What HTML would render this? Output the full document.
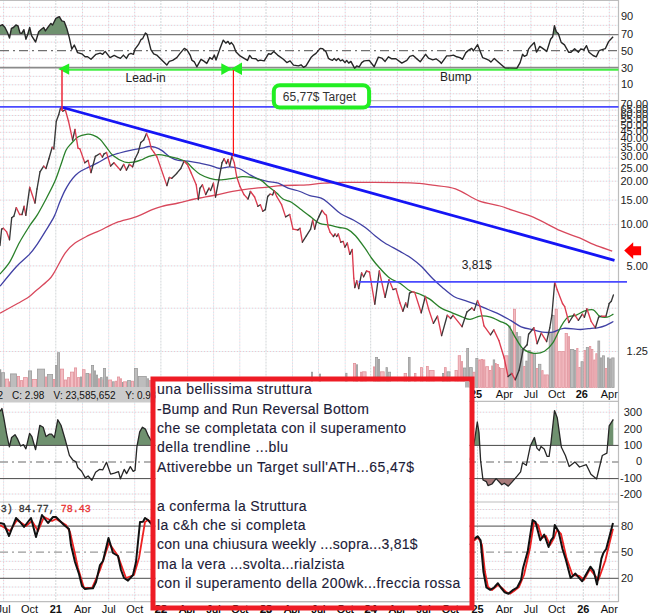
<!DOCTYPE html><html><head><meta charset="utf-8"><style>html,body{margin:0;padding:0;background:#fff;width:659px;height:613px;overflow:hidden} svg{display:block} text{font-family:"Liberation Sans",sans-serif}</style></head><body>
<svg width="659" height="613" viewBox="0 0 659 613">
<rect x="0" y="0" width="659" height="613" fill="#fff"/>
<line x1="3.6" y1="0" x2="3.6" y2="100.6" stroke="#f2c6cf" stroke-width="1" stroke-dasharray="1 2"/>
<line x1="3.6" y1="0" x2="3.6" y2="100.6" stroke="#c8e8ef" stroke-width="1" stroke-dasharray="1 2" stroke-dashoffset="1.5"/>
<line x1="3.6" y1="100.6" x2="3.6" y2="387" stroke="#f2c6cf" stroke-width="1" stroke-dasharray="1 2"/>
<line x1="3.6" y1="100.6" x2="3.6" y2="387" stroke="#c8e8ef" stroke-width="1" stroke-dasharray="1 2" stroke-dashoffset="1.5"/>
<line x1="3.6" y1="401.3" x2="3.6" y2="502" stroke="#f2c6cf" stroke-width="1" stroke-dasharray="1 2"/>
<line x1="3.6" y1="401.3" x2="3.6" y2="502" stroke="#c8e8ef" stroke-width="1" stroke-dasharray="1 2" stroke-dashoffset="1.5"/>
<line x1="3.6" y1="502" x2="3.6" y2="602" stroke="#f2c6cf" stroke-width="1" stroke-dasharray="1 2"/>
<line x1="3.6" y1="502" x2="3.6" y2="602" stroke="#c8e8ef" stroke-width="1" stroke-dasharray="1 2" stroke-dashoffset="1.5"/>
<line x1="29.6" y1="0" x2="29.6" y2="100.6" stroke="#f2c6cf" stroke-width="1" stroke-dasharray="1 2"/>
<line x1="29.6" y1="0" x2="29.6" y2="100.6" stroke="#c8e8ef" stroke-width="1" stroke-dasharray="1 2" stroke-dashoffset="1.5"/>
<line x1="29.6" y1="100.6" x2="29.6" y2="387" stroke="#f2c6cf" stroke-width="1" stroke-dasharray="1 2"/>
<line x1="29.6" y1="100.6" x2="29.6" y2="387" stroke="#c8e8ef" stroke-width="1" stroke-dasharray="1 2" stroke-dashoffset="1.5"/>
<line x1="29.6" y1="401.3" x2="29.6" y2="502" stroke="#f2c6cf" stroke-width="1" stroke-dasharray="1 2"/>
<line x1="29.6" y1="401.3" x2="29.6" y2="502" stroke="#c8e8ef" stroke-width="1" stroke-dasharray="1 2" stroke-dashoffset="1.5"/>
<line x1="29.6" y1="502" x2="29.6" y2="602" stroke="#f2c6cf" stroke-width="1" stroke-dasharray="1 2"/>
<line x1="29.6" y1="502" x2="29.6" y2="602" stroke="#c8e8ef" stroke-width="1" stroke-dasharray="1 2" stroke-dashoffset="1.5"/>
<line x1="55.8" y1="0" x2="55.8" y2="100.6" stroke="#d2d6d8" stroke-width="1" stroke-dasharray="2 1"/>
<line x1="55.8" y1="100.6" x2="55.8" y2="387" stroke="#d2d6d8" stroke-width="1" stroke-dasharray="2 1"/>
<line x1="55.8" y1="401.3" x2="55.8" y2="502" stroke="#d2d6d8" stroke-width="1" stroke-dasharray="2 1"/>
<line x1="55.8" y1="502" x2="55.8" y2="602" stroke="#d2d6d8" stroke-width="1" stroke-dasharray="2 1"/>
<line x1="82.5" y1="0" x2="82.5" y2="100.6" stroke="#f2c6cf" stroke-width="1" stroke-dasharray="1 2"/>
<line x1="82.5" y1="0" x2="82.5" y2="100.6" stroke="#c8e8ef" stroke-width="1" stroke-dasharray="1 2" stroke-dashoffset="1.5"/>
<line x1="82.5" y1="100.6" x2="82.5" y2="387" stroke="#f2c6cf" stroke-width="1" stroke-dasharray="1 2"/>
<line x1="82.5" y1="100.6" x2="82.5" y2="387" stroke="#c8e8ef" stroke-width="1" stroke-dasharray="1 2" stroke-dashoffset="1.5"/>
<line x1="82.5" y1="401.3" x2="82.5" y2="502" stroke="#f2c6cf" stroke-width="1" stroke-dasharray="1 2"/>
<line x1="82.5" y1="401.3" x2="82.5" y2="502" stroke="#c8e8ef" stroke-width="1" stroke-dasharray="1 2" stroke-dashoffset="1.5"/>
<line x1="82.5" y1="502" x2="82.5" y2="602" stroke="#f2c6cf" stroke-width="1" stroke-dasharray="1 2"/>
<line x1="82.5" y1="502" x2="82.5" y2="602" stroke="#c8e8ef" stroke-width="1" stroke-dasharray="1 2" stroke-dashoffset="1.5"/>
<line x1="108.7" y1="0" x2="108.7" y2="100.6" stroke="#f2c6cf" stroke-width="1" stroke-dasharray="1 2"/>
<line x1="108.7" y1="0" x2="108.7" y2="100.6" stroke="#c8e8ef" stroke-width="1" stroke-dasharray="1 2" stroke-dashoffset="1.5"/>
<line x1="108.7" y1="100.6" x2="108.7" y2="387" stroke="#f2c6cf" stroke-width="1" stroke-dasharray="1 2"/>
<line x1="108.7" y1="100.6" x2="108.7" y2="387" stroke="#c8e8ef" stroke-width="1" stroke-dasharray="1 2" stroke-dashoffset="1.5"/>
<line x1="108.7" y1="401.3" x2="108.7" y2="502" stroke="#f2c6cf" stroke-width="1" stroke-dasharray="1 2"/>
<line x1="108.7" y1="401.3" x2="108.7" y2="502" stroke="#c8e8ef" stroke-width="1" stroke-dasharray="1 2" stroke-dashoffset="1.5"/>
<line x1="108.7" y1="502" x2="108.7" y2="602" stroke="#f2c6cf" stroke-width="1" stroke-dasharray="1 2"/>
<line x1="108.7" y1="502" x2="108.7" y2="602" stroke="#c8e8ef" stroke-width="1" stroke-dasharray="1 2" stroke-dashoffset="1.5"/>
<line x1="134.7" y1="0" x2="134.7" y2="100.6" stroke="#f2c6cf" stroke-width="1" stroke-dasharray="1 2"/>
<line x1="134.7" y1="0" x2="134.7" y2="100.6" stroke="#c8e8ef" stroke-width="1" stroke-dasharray="1 2" stroke-dashoffset="1.5"/>
<line x1="134.7" y1="100.6" x2="134.7" y2="387" stroke="#f2c6cf" stroke-width="1" stroke-dasharray="1 2"/>
<line x1="134.7" y1="100.6" x2="134.7" y2="387" stroke="#c8e8ef" stroke-width="1" stroke-dasharray="1 2" stroke-dashoffset="1.5"/>
<line x1="134.7" y1="401.3" x2="134.7" y2="502" stroke="#f2c6cf" stroke-width="1" stroke-dasharray="1 2"/>
<line x1="134.7" y1="401.3" x2="134.7" y2="502" stroke="#c8e8ef" stroke-width="1" stroke-dasharray="1 2" stroke-dashoffset="1.5"/>
<line x1="134.7" y1="502" x2="134.7" y2="602" stroke="#f2c6cf" stroke-width="1" stroke-dasharray="1 2"/>
<line x1="134.7" y1="502" x2="134.7" y2="602" stroke="#c8e8ef" stroke-width="1" stroke-dasharray="1 2" stroke-dashoffset="1.5"/>
<line x1="160.9" y1="0" x2="160.9" y2="100.6" stroke="#d2d6d8" stroke-width="1" stroke-dasharray="2 1"/>
<line x1="160.9" y1="100.6" x2="160.9" y2="387" stroke="#d2d6d8" stroke-width="1" stroke-dasharray="2 1"/>
<line x1="160.9" y1="401.3" x2="160.9" y2="502" stroke="#d2d6d8" stroke-width="1" stroke-dasharray="2 1"/>
<line x1="160.9" y1="502" x2="160.9" y2="602" stroke="#d2d6d8" stroke-width="1" stroke-dasharray="2 1"/>
<line x1="187.6" y1="0" x2="187.6" y2="100.6" stroke="#f2c6cf" stroke-width="1" stroke-dasharray="1 2"/>
<line x1="187.6" y1="0" x2="187.6" y2="100.6" stroke="#c8e8ef" stroke-width="1" stroke-dasharray="1 2" stroke-dashoffset="1.5"/>
<line x1="187.6" y1="100.6" x2="187.6" y2="387" stroke="#f2c6cf" stroke-width="1" stroke-dasharray="1 2"/>
<line x1="187.6" y1="100.6" x2="187.6" y2="387" stroke="#c8e8ef" stroke-width="1" stroke-dasharray="1 2" stroke-dashoffset="1.5"/>
<line x1="187.6" y1="401.3" x2="187.6" y2="502" stroke="#f2c6cf" stroke-width="1" stroke-dasharray="1 2"/>
<line x1="187.6" y1="401.3" x2="187.6" y2="502" stroke="#c8e8ef" stroke-width="1" stroke-dasharray="1 2" stroke-dashoffset="1.5"/>
<line x1="187.6" y1="502" x2="187.6" y2="602" stroke="#f2c6cf" stroke-width="1" stroke-dasharray="1 2"/>
<line x1="187.6" y1="502" x2="187.6" y2="602" stroke="#c8e8ef" stroke-width="1" stroke-dasharray="1 2" stroke-dashoffset="1.5"/>
<line x1="213.6" y1="0" x2="213.6" y2="100.6" stroke="#f2c6cf" stroke-width="1" stroke-dasharray="1 2"/>
<line x1="213.6" y1="0" x2="213.6" y2="100.6" stroke="#c8e8ef" stroke-width="1" stroke-dasharray="1 2" stroke-dashoffset="1.5"/>
<line x1="213.6" y1="100.6" x2="213.6" y2="387" stroke="#f2c6cf" stroke-width="1" stroke-dasharray="1 2"/>
<line x1="213.6" y1="100.6" x2="213.6" y2="387" stroke="#c8e8ef" stroke-width="1" stroke-dasharray="1 2" stroke-dashoffset="1.5"/>
<line x1="213.6" y1="401.3" x2="213.6" y2="502" stroke="#f2c6cf" stroke-width="1" stroke-dasharray="1 2"/>
<line x1="213.6" y1="401.3" x2="213.6" y2="502" stroke="#c8e8ef" stroke-width="1" stroke-dasharray="1 2" stroke-dashoffset="1.5"/>
<line x1="213.6" y1="502" x2="213.6" y2="602" stroke="#f2c6cf" stroke-width="1" stroke-dasharray="1 2"/>
<line x1="213.6" y1="502" x2="213.6" y2="602" stroke="#c8e8ef" stroke-width="1" stroke-dasharray="1 2" stroke-dashoffset="1.5"/>
<line x1="239.8" y1="0" x2="239.8" y2="100.6" stroke="#f2c6cf" stroke-width="1" stroke-dasharray="1 2"/>
<line x1="239.8" y1="0" x2="239.8" y2="100.6" stroke="#c8e8ef" stroke-width="1" stroke-dasharray="1 2" stroke-dashoffset="1.5"/>
<line x1="239.8" y1="100.6" x2="239.8" y2="387" stroke="#f2c6cf" stroke-width="1" stroke-dasharray="1 2"/>
<line x1="239.8" y1="100.6" x2="239.8" y2="387" stroke="#c8e8ef" stroke-width="1" stroke-dasharray="1 2" stroke-dashoffset="1.5"/>
<line x1="239.8" y1="401.3" x2="239.8" y2="502" stroke="#f2c6cf" stroke-width="1" stroke-dasharray="1 2"/>
<line x1="239.8" y1="401.3" x2="239.8" y2="502" stroke="#c8e8ef" stroke-width="1" stroke-dasharray="1 2" stroke-dashoffset="1.5"/>
<line x1="239.8" y1="502" x2="239.8" y2="602" stroke="#f2c6cf" stroke-width="1" stroke-dasharray="1 2"/>
<line x1="239.8" y1="502" x2="239.8" y2="602" stroke="#c8e8ef" stroke-width="1" stroke-dasharray="1 2" stroke-dashoffset="1.5"/>
<line x1="266.0" y1="0" x2="266.0" y2="100.6" stroke="#d2d6d8" stroke-width="1" stroke-dasharray="2 1"/>
<line x1="266.0" y1="100.6" x2="266.0" y2="387" stroke="#d2d6d8" stroke-width="1" stroke-dasharray="2 1"/>
<line x1="266.0" y1="401.3" x2="266.0" y2="502" stroke="#d2d6d8" stroke-width="1" stroke-dasharray="2 1"/>
<line x1="266.0" y1="502" x2="266.0" y2="602" stroke="#d2d6d8" stroke-width="1" stroke-dasharray="2 1"/>
<line x1="292.5" y1="0" x2="292.5" y2="100.6" stroke="#f2c6cf" stroke-width="1" stroke-dasharray="1 2"/>
<line x1="292.5" y1="0" x2="292.5" y2="100.6" stroke="#c8e8ef" stroke-width="1" stroke-dasharray="1 2" stroke-dashoffset="1.5"/>
<line x1="292.5" y1="100.6" x2="292.5" y2="387" stroke="#f2c6cf" stroke-width="1" stroke-dasharray="1 2"/>
<line x1="292.5" y1="100.6" x2="292.5" y2="387" stroke="#c8e8ef" stroke-width="1" stroke-dasharray="1 2" stroke-dashoffset="1.5"/>
<line x1="292.5" y1="401.3" x2="292.5" y2="502" stroke="#f2c6cf" stroke-width="1" stroke-dasharray="1 2"/>
<line x1="292.5" y1="401.3" x2="292.5" y2="502" stroke="#c8e8ef" stroke-width="1" stroke-dasharray="1 2" stroke-dashoffset="1.5"/>
<line x1="292.5" y1="502" x2="292.5" y2="602" stroke="#f2c6cf" stroke-width="1" stroke-dasharray="1 2"/>
<line x1="292.5" y1="502" x2="292.5" y2="602" stroke="#c8e8ef" stroke-width="1" stroke-dasharray="1 2" stroke-dashoffset="1.5"/>
<line x1="318.5" y1="0" x2="318.5" y2="100.6" stroke="#f2c6cf" stroke-width="1" stroke-dasharray="1 2"/>
<line x1="318.5" y1="0" x2="318.5" y2="100.6" stroke="#c8e8ef" stroke-width="1" stroke-dasharray="1 2" stroke-dashoffset="1.5"/>
<line x1="318.5" y1="100.6" x2="318.5" y2="387" stroke="#f2c6cf" stroke-width="1" stroke-dasharray="1 2"/>
<line x1="318.5" y1="100.6" x2="318.5" y2="387" stroke="#c8e8ef" stroke-width="1" stroke-dasharray="1 2" stroke-dashoffset="1.5"/>
<line x1="318.5" y1="401.3" x2="318.5" y2="502" stroke="#f2c6cf" stroke-width="1" stroke-dasharray="1 2"/>
<line x1="318.5" y1="401.3" x2="318.5" y2="502" stroke="#c8e8ef" stroke-width="1" stroke-dasharray="1 2" stroke-dashoffset="1.5"/>
<line x1="318.5" y1="502" x2="318.5" y2="602" stroke="#f2c6cf" stroke-width="1" stroke-dasharray="1 2"/>
<line x1="318.5" y1="502" x2="318.5" y2="602" stroke="#c8e8ef" stroke-width="1" stroke-dasharray="1 2" stroke-dashoffset="1.5"/>
<line x1="345.2" y1="0" x2="345.2" y2="100.6" stroke="#f2c6cf" stroke-width="1" stroke-dasharray="1 2"/>
<line x1="345.2" y1="0" x2="345.2" y2="100.6" stroke="#c8e8ef" stroke-width="1" stroke-dasharray="1 2" stroke-dashoffset="1.5"/>
<line x1="345.2" y1="100.6" x2="345.2" y2="387" stroke="#f2c6cf" stroke-width="1" stroke-dasharray="1 2"/>
<line x1="345.2" y1="100.6" x2="345.2" y2="387" stroke="#c8e8ef" stroke-width="1" stroke-dasharray="1 2" stroke-dashoffset="1.5"/>
<line x1="345.2" y1="401.3" x2="345.2" y2="502" stroke="#f2c6cf" stroke-width="1" stroke-dasharray="1 2"/>
<line x1="345.2" y1="401.3" x2="345.2" y2="502" stroke="#c8e8ef" stroke-width="1" stroke-dasharray="1 2" stroke-dashoffset="1.5"/>
<line x1="345.2" y1="502" x2="345.2" y2="602" stroke="#f2c6cf" stroke-width="1" stroke-dasharray="1 2"/>
<line x1="345.2" y1="502" x2="345.2" y2="602" stroke="#c8e8ef" stroke-width="1" stroke-dasharray="1 2" stroke-dashoffset="1.5"/>
<line x1="370.7" y1="0" x2="370.7" y2="100.6" stroke="#d2d6d8" stroke-width="1" stroke-dasharray="2 1"/>
<line x1="370.7" y1="100.6" x2="370.7" y2="387" stroke="#d2d6d8" stroke-width="1" stroke-dasharray="2 1"/>
<line x1="370.7" y1="401.3" x2="370.7" y2="502" stroke="#d2d6d8" stroke-width="1" stroke-dasharray="2 1"/>
<line x1="370.7" y1="502" x2="370.7" y2="602" stroke="#d2d6d8" stroke-width="1" stroke-dasharray="2 1"/>
<line x1="397.4" y1="0" x2="397.4" y2="100.6" stroke="#f2c6cf" stroke-width="1" stroke-dasharray="1 2"/>
<line x1="397.4" y1="0" x2="397.4" y2="100.6" stroke="#c8e8ef" stroke-width="1" stroke-dasharray="1 2" stroke-dashoffset="1.5"/>
<line x1="397.4" y1="100.6" x2="397.4" y2="387" stroke="#f2c6cf" stroke-width="1" stroke-dasharray="1 2"/>
<line x1="397.4" y1="100.6" x2="397.4" y2="387" stroke="#c8e8ef" stroke-width="1" stroke-dasharray="1 2" stroke-dashoffset="1.5"/>
<line x1="397.4" y1="401.3" x2="397.4" y2="502" stroke="#f2c6cf" stroke-width="1" stroke-dasharray="1 2"/>
<line x1="397.4" y1="401.3" x2="397.4" y2="502" stroke="#c8e8ef" stroke-width="1" stroke-dasharray="1 2" stroke-dashoffset="1.5"/>
<line x1="397.4" y1="502" x2="397.4" y2="602" stroke="#f2c6cf" stroke-width="1" stroke-dasharray="1 2"/>
<line x1="397.4" y1="502" x2="397.4" y2="602" stroke="#c8e8ef" stroke-width="1" stroke-dasharray="1 2" stroke-dashoffset="1.5"/>
<line x1="423.6" y1="0" x2="423.6" y2="100.6" stroke="#f2c6cf" stroke-width="1" stroke-dasharray="1 2"/>
<line x1="423.6" y1="0" x2="423.6" y2="100.6" stroke="#c8e8ef" stroke-width="1" stroke-dasharray="1 2" stroke-dashoffset="1.5"/>
<line x1="423.6" y1="100.6" x2="423.6" y2="387" stroke="#f2c6cf" stroke-width="1" stroke-dasharray="1 2"/>
<line x1="423.6" y1="100.6" x2="423.6" y2="387" stroke="#c8e8ef" stroke-width="1" stroke-dasharray="1 2" stroke-dashoffset="1.5"/>
<line x1="423.6" y1="401.3" x2="423.6" y2="502" stroke="#f2c6cf" stroke-width="1" stroke-dasharray="1 2"/>
<line x1="423.6" y1="401.3" x2="423.6" y2="502" stroke="#c8e8ef" stroke-width="1" stroke-dasharray="1 2" stroke-dashoffset="1.5"/>
<line x1="423.6" y1="502" x2="423.6" y2="602" stroke="#f2c6cf" stroke-width="1" stroke-dasharray="1 2"/>
<line x1="423.6" y1="502" x2="423.6" y2="602" stroke="#c8e8ef" stroke-width="1" stroke-dasharray="1 2" stroke-dashoffset="1.5"/>
<line x1="450.3" y1="0" x2="450.3" y2="100.6" stroke="#f2c6cf" stroke-width="1" stroke-dasharray="1 2"/>
<line x1="450.3" y1="0" x2="450.3" y2="100.6" stroke="#c8e8ef" stroke-width="1" stroke-dasharray="1 2" stroke-dashoffset="1.5"/>
<line x1="450.3" y1="100.6" x2="450.3" y2="387" stroke="#f2c6cf" stroke-width="1" stroke-dasharray="1 2"/>
<line x1="450.3" y1="100.6" x2="450.3" y2="387" stroke="#c8e8ef" stroke-width="1" stroke-dasharray="1 2" stroke-dashoffset="1.5"/>
<line x1="450.3" y1="401.3" x2="450.3" y2="502" stroke="#f2c6cf" stroke-width="1" stroke-dasharray="1 2"/>
<line x1="450.3" y1="401.3" x2="450.3" y2="502" stroke="#c8e8ef" stroke-width="1" stroke-dasharray="1 2" stroke-dashoffset="1.5"/>
<line x1="450.3" y1="502" x2="450.3" y2="602" stroke="#f2c6cf" stroke-width="1" stroke-dasharray="1 2"/>
<line x1="450.3" y1="502" x2="450.3" y2="602" stroke="#c8e8ef" stroke-width="1" stroke-dasharray="1 2" stroke-dashoffset="1.5"/>
<line x1="477.5" y1="0" x2="477.5" y2="100.6" stroke="#d2d6d8" stroke-width="1" stroke-dasharray="2 1"/>
<line x1="477.5" y1="100.6" x2="477.5" y2="387" stroke="#d2d6d8" stroke-width="1" stroke-dasharray="2 1"/>
<line x1="477.5" y1="401.3" x2="477.5" y2="502" stroke="#d2d6d8" stroke-width="1" stroke-dasharray="2 1"/>
<line x1="477.5" y1="502" x2="477.5" y2="602" stroke="#d2d6d8" stroke-width="1" stroke-dasharray="2 1"/>
<line x1="504.4" y1="0" x2="504.4" y2="100.6" stroke="#f2c6cf" stroke-width="1" stroke-dasharray="1 2"/>
<line x1="504.4" y1="0" x2="504.4" y2="100.6" stroke="#c8e8ef" stroke-width="1" stroke-dasharray="1 2" stroke-dashoffset="1.5"/>
<line x1="504.4" y1="100.6" x2="504.4" y2="387" stroke="#f2c6cf" stroke-width="1" stroke-dasharray="1 2"/>
<line x1="504.4" y1="100.6" x2="504.4" y2="387" stroke="#c8e8ef" stroke-width="1" stroke-dasharray="1 2" stroke-dashoffset="1.5"/>
<line x1="504.4" y1="401.3" x2="504.4" y2="502" stroke="#f2c6cf" stroke-width="1" stroke-dasharray="1 2"/>
<line x1="504.4" y1="401.3" x2="504.4" y2="502" stroke="#c8e8ef" stroke-width="1" stroke-dasharray="1 2" stroke-dashoffset="1.5"/>
<line x1="504.4" y1="502" x2="504.4" y2="602" stroke="#f2c6cf" stroke-width="1" stroke-dasharray="1 2"/>
<line x1="504.4" y1="502" x2="504.4" y2="602" stroke="#c8e8ef" stroke-width="1" stroke-dasharray="1 2" stroke-dashoffset="1.5"/>
<line x1="530.9" y1="0" x2="530.9" y2="100.6" stroke="#f2c6cf" stroke-width="1" stroke-dasharray="1 2"/>
<line x1="530.9" y1="0" x2="530.9" y2="100.6" stroke="#c8e8ef" stroke-width="1" stroke-dasharray="1 2" stroke-dashoffset="1.5"/>
<line x1="530.9" y1="100.6" x2="530.9" y2="387" stroke="#f2c6cf" stroke-width="1" stroke-dasharray="1 2"/>
<line x1="530.9" y1="100.6" x2="530.9" y2="387" stroke="#c8e8ef" stroke-width="1" stroke-dasharray="1 2" stroke-dashoffset="1.5"/>
<line x1="530.9" y1="401.3" x2="530.9" y2="502" stroke="#f2c6cf" stroke-width="1" stroke-dasharray="1 2"/>
<line x1="530.9" y1="401.3" x2="530.9" y2="502" stroke="#c8e8ef" stroke-width="1" stroke-dasharray="1 2" stroke-dashoffset="1.5"/>
<line x1="530.9" y1="502" x2="530.9" y2="602" stroke="#f2c6cf" stroke-width="1" stroke-dasharray="1 2"/>
<line x1="530.9" y1="502" x2="530.9" y2="602" stroke="#c8e8ef" stroke-width="1" stroke-dasharray="1 2" stroke-dashoffset="1.5"/>
<line x1="556.6" y1="0" x2="556.6" y2="100.6" stroke="#f2c6cf" stroke-width="1" stroke-dasharray="1 2"/>
<line x1="556.6" y1="0" x2="556.6" y2="100.6" stroke="#c8e8ef" stroke-width="1" stroke-dasharray="1 2" stroke-dashoffset="1.5"/>
<line x1="556.6" y1="100.6" x2="556.6" y2="387" stroke="#f2c6cf" stroke-width="1" stroke-dasharray="1 2"/>
<line x1="556.6" y1="100.6" x2="556.6" y2="387" stroke="#c8e8ef" stroke-width="1" stroke-dasharray="1 2" stroke-dashoffset="1.5"/>
<line x1="556.6" y1="401.3" x2="556.6" y2="502" stroke="#f2c6cf" stroke-width="1" stroke-dasharray="1 2"/>
<line x1="556.6" y1="401.3" x2="556.6" y2="502" stroke="#c8e8ef" stroke-width="1" stroke-dasharray="1 2" stroke-dashoffset="1.5"/>
<line x1="556.6" y1="502" x2="556.6" y2="602" stroke="#f2c6cf" stroke-width="1" stroke-dasharray="1 2"/>
<line x1="556.6" y1="502" x2="556.6" y2="602" stroke="#c8e8ef" stroke-width="1" stroke-dasharray="1 2" stroke-dashoffset="1.5"/>
<line x1="583.3" y1="0" x2="583.3" y2="100.6" stroke="#d2d6d8" stroke-width="1" stroke-dasharray="2 1"/>
<line x1="583.3" y1="100.6" x2="583.3" y2="387" stroke="#d2d6d8" stroke-width="1" stroke-dasharray="2 1"/>
<line x1="583.3" y1="401.3" x2="583.3" y2="502" stroke="#d2d6d8" stroke-width="1" stroke-dasharray="2 1"/>
<line x1="583.3" y1="502" x2="583.3" y2="602" stroke="#d2d6d8" stroke-width="1" stroke-dasharray="2 1"/>
<line x1="609.3" y1="0" x2="609.3" y2="100.6" stroke="#f2c6cf" stroke-width="1" stroke-dasharray="1 2"/>
<line x1="609.3" y1="0" x2="609.3" y2="100.6" stroke="#c8e8ef" stroke-width="1" stroke-dasharray="1 2" stroke-dashoffset="1.5"/>
<line x1="609.3" y1="100.6" x2="609.3" y2="387" stroke="#f2c6cf" stroke-width="1" stroke-dasharray="1 2"/>
<line x1="609.3" y1="100.6" x2="609.3" y2="387" stroke="#c8e8ef" stroke-width="1" stroke-dasharray="1 2" stroke-dashoffset="1.5"/>
<line x1="609.3" y1="401.3" x2="609.3" y2="502" stroke="#f2c6cf" stroke-width="1" stroke-dasharray="1 2"/>
<line x1="609.3" y1="401.3" x2="609.3" y2="502" stroke="#c8e8ef" stroke-width="1" stroke-dasharray="1 2" stroke-dashoffset="1.5"/>
<line x1="609.3" y1="502" x2="609.3" y2="602" stroke="#f2c6cf" stroke-width="1" stroke-dasharray="1 2"/>
<line x1="609.3" y1="502" x2="609.3" y2="602" stroke="#c8e8ef" stroke-width="1" stroke-dasharray="1 2" stroke-dashoffset="1.5"/>
<line x1="0" y1="7.3" x2="618.5" y2="7.3" stroke="#f2c6cf" stroke-width="1" stroke-dasharray="1 2"/>
<line x1="0" y1="7.3" x2="618.5" y2="7.3" stroke="#c8e8ef" stroke-width="1" stroke-dasharray="1 2" stroke-dashoffset="1.5"/>
<line x1="0" y1="16.3" x2="618.5" y2="16.3" stroke="#f2c6cf" stroke-width="1" stroke-dasharray="1 2"/>
<line x1="0" y1="16.3" x2="618.5" y2="16.3" stroke="#c8e8ef" stroke-width="1" stroke-dasharray="1 2" stroke-dashoffset="1.5"/>
<line x1="0" y1="25.3" x2="618.5" y2="25.3" stroke="#f2c6cf" stroke-width="1" stroke-dasharray="1 2"/>
<line x1="0" y1="25.3" x2="618.5" y2="25.3" stroke="#c8e8ef" stroke-width="1" stroke-dasharray="1 2" stroke-dashoffset="1.5"/>
<line x1="0" y1="42.1" x2="618.5" y2="42.1" stroke="#f2c6cf" stroke-width="1" stroke-dasharray="1 2"/>
<line x1="0" y1="42.1" x2="618.5" y2="42.1" stroke="#c8e8ef" stroke-width="1" stroke-dasharray="1 2" stroke-dashoffset="1.5"/>
<line x1="0" y1="58.7" x2="618.5" y2="58.7" stroke="#f2c6cf" stroke-width="1" stroke-dasharray="1 2"/>
<line x1="0" y1="58.7" x2="618.5" y2="58.7" stroke="#c8e8ef" stroke-width="1" stroke-dasharray="1 2" stroke-dashoffset="1.5"/>
<line x1="0" y1="76.3" x2="618.5" y2="76.3" stroke="#f2c6cf" stroke-width="1" stroke-dasharray="1 2"/>
<line x1="0" y1="76.3" x2="618.5" y2="76.3" stroke="#c8e8ef" stroke-width="1" stroke-dasharray="1 2" stroke-dashoffset="1.5"/>
<line x1="0" y1="84.8" x2="618.5" y2="84.8" stroke="#f2c6cf" stroke-width="1" stroke-dasharray="1 2"/>
<line x1="0" y1="84.8" x2="618.5" y2="84.8" stroke="#c8e8ef" stroke-width="1" stroke-dasharray="1 2" stroke-dashoffset="1.5"/>
<line x1="0" y1="93.8" x2="618.5" y2="93.8" stroke="#f2c6cf" stroke-width="1" stroke-dasharray="1 2"/>
<line x1="0" y1="93.8" x2="618.5" y2="93.8" stroke="#c8e8ef" stroke-width="1" stroke-dasharray="1 2" stroke-dashoffset="1.5"/>
<line x1="0" y1="110.1" x2="618.5" y2="110.1" stroke="#f2c6cf" stroke-width="1" stroke-dasharray="1 2"/>
<line x1="0" y1="110.1" x2="618.5" y2="110.1" stroke="#c8e8ef" stroke-width="1" stroke-dasharray="1 2" stroke-dashoffset="1.5"/>
<line x1="0" y1="115.5" x2="618.5" y2="115.5" stroke="#f2c6cf" stroke-width="1" stroke-dasharray="1 2"/>
<line x1="0" y1="115.5" x2="618.5" y2="115.5" stroke="#c8e8ef" stroke-width="1" stroke-dasharray="1 2" stroke-dashoffset="1.5"/>
<line x1="0" y1="120.4" x2="618.5" y2="120.4" stroke="#f2c6cf" stroke-width="1" stroke-dasharray="1 2"/>
<line x1="0" y1="120.4" x2="618.5" y2="120.4" stroke="#c8e8ef" stroke-width="1" stroke-dasharray="1 2" stroke-dashoffset="1.5"/>
<line x1="0" y1="126.1" x2="618.5" y2="126.1" stroke="#f2c6cf" stroke-width="1" stroke-dasharray="1 2"/>
<line x1="0" y1="126.1" x2="618.5" y2="126.1" stroke="#c8e8ef" stroke-width="1" stroke-dasharray="1 2" stroke-dashoffset="1.5"/>
<line x1="0" y1="132.3" x2="618.5" y2="132.3" stroke="#f2c6cf" stroke-width="1" stroke-dasharray="1 2"/>
<line x1="0" y1="132.3" x2="618.5" y2="132.3" stroke="#c8e8ef" stroke-width="1" stroke-dasharray="1 2" stroke-dashoffset="1.5"/>
<line x1="0" y1="139.2" x2="618.5" y2="139.2" stroke="#f2c6cf" stroke-width="1" stroke-dasharray="1 2"/>
<line x1="0" y1="139.2" x2="618.5" y2="139.2" stroke="#c8e8ef" stroke-width="1" stroke-dasharray="1 2" stroke-dashoffset="1.5"/>
<line x1="0" y1="148.1" x2="618.5" y2="148.1" stroke="#f2c6cf" stroke-width="1" stroke-dasharray="1 2"/>
<line x1="0" y1="148.1" x2="618.5" y2="148.1" stroke="#c8e8ef" stroke-width="1" stroke-dasharray="1 2" stroke-dashoffset="1.5"/>
<line x1="0" y1="157.1" x2="618.5" y2="157.1" stroke="#f2c6cf" stroke-width="1" stroke-dasharray="1 2"/>
<line x1="0" y1="157.1" x2="618.5" y2="157.1" stroke="#c8e8ef" stroke-width="1" stroke-dasharray="1 2" stroke-dashoffset="1.5"/>
<line x1="0" y1="168.2" x2="618.5" y2="168.2" stroke="#f2c6cf" stroke-width="1" stroke-dasharray="1 2"/>
<line x1="0" y1="168.2" x2="618.5" y2="168.2" stroke="#c8e8ef" stroke-width="1" stroke-dasharray="1 2" stroke-dashoffset="1.5"/>
<line x1="0" y1="181.2" x2="618.5" y2="181.2" stroke="#f2c6cf" stroke-width="1" stroke-dasharray="1 2"/>
<line x1="0" y1="181.2" x2="618.5" y2="181.2" stroke="#c8e8ef" stroke-width="1" stroke-dasharray="1 2" stroke-dashoffset="1.5"/>
<line x1="0" y1="200.1" x2="618.5" y2="200.1" stroke="#f2c6cf" stroke-width="1" stroke-dasharray="1 2"/>
<line x1="0" y1="200.1" x2="618.5" y2="200.1" stroke="#c8e8ef" stroke-width="1" stroke-dasharray="1 2" stroke-dashoffset="1.5"/>
<line x1="0" y1="224.6" x2="618.5" y2="224.6" stroke="#f2c6cf" stroke-width="1" stroke-dasharray="1 2"/>
<line x1="0" y1="224.6" x2="618.5" y2="224.6" stroke="#c8e8ef" stroke-width="1" stroke-dasharray="1 2" stroke-dashoffset="1.5"/>
<line x1="0" y1="265.9" x2="618.5" y2="265.9" stroke="#f2c6cf" stroke-width="1" stroke-dasharray="1 2"/>
<line x1="0" y1="265.9" x2="618.5" y2="265.9" stroke="#c8e8ef" stroke-width="1" stroke-dasharray="1 2" stroke-dashoffset="1.5"/>
<line x1="0" y1="308.2" x2="618.5" y2="308.2" stroke="#f2c6cf" stroke-width="1" stroke-dasharray="1 2"/>
<line x1="0" y1="308.2" x2="618.5" y2="308.2" stroke="#c8e8ef" stroke-width="1" stroke-dasharray="1 2" stroke-dashoffset="1.5"/>
<line x1="0" y1="351.5" x2="618.5" y2="351.5" stroke="#f2c6cf" stroke-width="1" stroke-dasharray="1 2"/>
<line x1="0" y1="351.5" x2="618.5" y2="351.5" stroke="#c8e8ef" stroke-width="1" stroke-dasharray="1 2" stroke-dashoffset="1.5"/>
<line x1="0" y1="412.2" x2="618.5" y2="412.2" stroke="#f2c6cf" stroke-width="1" stroke-dasharray="1 2"/>
<line x1="0" y1="412.2" x2="618.5" y2="412.2" stroke="#c8e8ef" stroke-width="1" stroke-dasharray="1 2" stroke-dashoffset="1.5"/>
<line x1="0" y1="429" x2="618.5" y2="429" stroke="#f2c6cf" stroke-width="1" stroke-dasharray="1 2"/>
<line x1="0" y1="429" x2="618.5" y2="429" stroke="#c8e8ef" stroke-width="1" stroke-dasharray="1 2" stroke-dashoffset="1.5"/>
<line x1="0" y1="494" x2="618.5" y2="494" stroke="#f2c6cf" stroke-width="1" stroke-dasharray="1 2"/>
<line x1="0" y1="494" x2="618.5" y2="494" stroke="#c8e8ef" stroke-width="1" stroke-dasharray="1 2" stroke-dashoffset="1.5"/>
<line x1="0" y1="509.5" x2="618.5" y2="509.5" stroke="#f2c6cf" stroke-width="1" stroke-dasharray="1 2"/>
<line x1="0" y1="509.5" x2="618.5" y2="509.5" stroke="#c8e8ef" stroke-width="1" stroke-dasharray="1 2" stroke-dashoffset="1.5"/>
<line x1="0" y1="518" x2="618.5" y2="518" stroke="#f2c6cf" stroke-width="1" stroke-dasharray="1 2"/>
<line x1="0" y1="518" x2="618.5" y2="518" stroke="#c8e8ef" stroke-width="1" stroke-dasharray="1 2" stroke-dashoffset="1.5"/>
<line x1="0" y1="535.5" x2="618.5" y2="535.5" stroke="#f2c6cf" stroke-width="1" stroke-dasharray="1 2"/>
<line x1="0" y1="535.5" x2="618.5" y2="535.5" stroke="#c8e8ef" stroke-width="1" stroke-dasharray="1 2" stroke-dashoffset="1.5"/>
<line x1="0" y1="543.5" x2="618.5" y2="543.5" stroke="#f2c6cf" stroke-width="1" stroke-dasharray="1 2"/>
<line x1="0" y1="543.5" x2="618.5" y2="543.5" stroke="#c8e8ef" stroke-width="1" stroke-dasharray="1 2" stroke-dashoffset="1.5"/>
<line x1="0" y1="561.3" x2="618.5" y2="561.3" stroke="#f2c6cf" stroke-width="1" stroke-dasharray="1 2"/>
<line x1="0" y1="561.3" x2="618.5" y2="561.3" stroke="#c8e8ef" stroke-width="1" stroke-dasharray="1 2" stroke-dashoffset="1.5"/>
<line x1="0" y1="569.5" x2="618.5" y2="569.5" stroke="#f2c6cf" stroke-width="1" stroke-dasharray="1 2"/>
<line x1="0" y1="569.5" x2="618.5" y2="569.5" stroke="#c8e8ef" stroke-width="1" stroke-dasharray="1 2" stroke-dashoffset="1.5"/>
<line x1="0" y1="587" x2="618.5" y2="587" stroke="#f2c6cf" stroke-width="1" stroke-dasharray="1 2"/>
<line x1="0" y1="587" x2="618.5" y2="587" stroke="#c8e8ef" stroke-width="1" stroke-dasharray="1 2" stroke-dashoffset="1.5"/>
<line x1="0" y1="595" x2="618.5" y2="595" stroke="#f2c6cf" stroke-width="1" stroke-dasharray="1 2"/>
<line x1="0" y1="595" x2="618.5" y2="595" stroke="#c8e8ef" stroke-width="1" stroke-dasharray="1 2" stroke-dashoffset="1.5"/>
<line x1="0" y1="0.5" x2="618.5" y2="0.5" stroke="#bdbdbd" stroke-width="1"/>
<line x1="0" y1="100.6" x2="618.5" y2="100.6" stroke="#bdbdbd" stroke-width="1.2"/>
<line x1="0" y1="401.3" x2="618.5" y2="401.3" stroke="#bdbdbd" stroke-width="1.2"/>
<line x1="0" y1="502" x2="618.5" y2="502" stroke="#bdbdbd" stroke-width="1.2"/>
<line x1="0" y1="601.6" x2="618.5" y2="601.6" stroke="#bdbdbd" stroke-width="1.2"/>
<line x1="618.5" y1="0" x2="618.5" y2="602" stroke="#bdbdbd" stroke-width="1.2"/>
<clipPath id="c245"><rect x="0" y="0" width="659" height="34.60"/></clipPath><polygon clip-path="url(#c245)" points="0.0,34.6 0.0,25.9 2.5,24.7 5.0,27.5 7.5,32.5 9.5,38.0 11.4,28.4 13.4,27.5 15.9,25.0 18.0,25.9 20.0,33.0 21.7,33.4 23.9,29.7 25.9,39.2 27.5,35.0 29.7,27.5 31.7,35.9 35.6,42.0 38.7,31.7 41.4,29.2 43.7,27.5 45.4,30.9 48.4,26.7 50.9,23.4 52.6,25.0 55.9,18.4 59.3,16.7 61.8,20.9 64.3,21.7 66.8,28.4 69.3,37.6 71.8,49.2 74.3,45.0 77.6,52.6 81.8,53.8 85.1,56.8 87.6,56.8 91.0,59.3 96.0,54.3 100.2,53.1 102.7,54.3 105.2,51.4 110.0,57.6 114.2,55.4 117.5,57.1 120.4,58.4 123.4,55.1 126.4,58.4 128.7,54.3 130.9,53.4 133.4,54.3 135.0,49.2 138.4,44.7 140.9,39.7 142.6,38.7 145.4,33.0 147.0,34.2 150.9,49.7 153.7,53.8 156.7,55.1 166.8,65.1 169.3,61.4 172.6,60.4 176.8,57.6 180.1,53.4 184.3,48.4 187.1,50.1 190.1,55.1 191.8,60.1 194.3,61.8 196.8,66.8 201.0,59.3 203.5,60.9 206.8,63.4 209.8,57.6 212.2,59.3 214.3,55.1 216.0,60.1 220.0,48.4 223.3,40.1 225.8,43.1 228.0,41.4 229.7,44.2 231.4,42.6 233.4,45.1 235.9,51.8 240.0,55.9 247.5,60.4 249.7,55.4 252.0,58.4 255.9,58.8 258.1,60.9 260.1,60.1 264.2,60.9 268.4,53.8 270.9,54.3 273.8,51.4 277.6,55.1 283.4,59.3 286.8,62.6 290.1,60.9 293.5,65.1 298.5,65.9 301.0,64.8 303.5,67.3 306.0,65.9 311.0,57.6 313.5,55.1 316.0,53.4 320.2,48.4 322.7,48.7 326.0,51.8 328.5,58.4 330.0,59.3 332.5,60.4 334.2,58.4 336.3,60.4 338.3,58.4 340.4,60.9 342.5,59.8 345.0,62.6 346.7,60.4 348.7,63.1 350.9,61.4 352.5,64.3 354.7,68.4 356.7,65.9 359.2,66.8 361.7,62.6 364.2,60.9 369.2,60.4 374.2,66.8 378.4,57.1 381.8,58.1 385.1,61.4 388.4,56.8 391.8,58.8 395.9,58.8 401.8,63.1 406.8,60.4 409.8,56.4 413.1,55.4 416.0,58.1 420.2,61.8 425.5,54.3 428.5,58.1 432.7,59.8 436.0,58.8 440.0,61.8 441.3,63.4 444.2,59.3 446.7,55.9 450.0,55.9 453.4,55.1 456.7,56.8 460.0,57.6 462.5,59.3 465.9,52.6 468.4,50.4 471.7,48.4 473.4,50.9 477.6,44.7 482.6,57.6 485.9,58.8 489.2,60.4 490.9,62.1 494.3,58.4 497.6,61.4 505.1,68.1 516.8,68.4 520.1,62.6 522.6,54.3 524.3,56.4 526.8,55.1 528.5,49.2 531.0,45.9 534.3,42.6 536.5,52.1 539.8,46.4 542.7,48.4 546.8,51.4 550.6,39.2 552.7,36.7 554.4,25.8 556.3,31.8 558.3,33.5 561.2,42.4 564.5,44.9 568.6,52.2 571.0,52.2 574.6,48.7 578.4,52.2 580.8,49.0 583.8,49.8 586.5,45.7 589.0,52.2 593.1,55.5 596.3,56.8 599.1,50.6 605.3,48.7 608.6,41.6 613.1,36.7 613.1,34.6" fill="#6f916f"/>
<line x1="0" y1="34.6" x2="618.5" y2="34.6" stroke="#7a7a7a" stroke-width="1.2"/>
<line x1="0" y1="50.6" x2="618.5" y2="50.6" stroke="#707070" stroke-width="1.2" stroke-dasharray="9 4 2 4"/>
<line x1="0" y1="67.6" x2="618.5" y2="67.6" stroke="#8a8a8a" stroke-width="1.6"/>
<polyline points="0.0,25.9 2.5,24.7 5.0,27.5 7.5,32.5 9.5,38.0 11.4,28.4 13.4,27.5 15.9,25.0 18.0,25.9 20.0,33.0 21.7,33.4 23.9,29.7 25.9,39.2 27.5,35.0 29.7,27.5 31.7,35.9 35.6,42.0 38.7,31.7 41.4,29.2 43.7,27.5 45.4,30.9 48.4,26.7 50.9,23.4 52.6,25.0 55.9,18.4 59.3,16.7 61.8,20.9 64.3,21.7 66.8,28.4 69.3,37.6 71.8,49.2 74.3,45.0 77.6,52.6 81.8,53.8 85.1,56.8 87.6,56.8 91.0,59.3 96.0,54.3 100.2,53.1 102.7,54.3 105.2,51.4 110.0,57.6 114.2,55.4 117.5,57.1 120.4,58.4 123.4,55.1 126.4,58.4 128.7,54.3 130.9,53.4 133.4,54.3 135.0,49.2 138.4,44.7 140.9,39.7 142.6,38.7 145.4,33.0 147.0,34.2 150.9,49.7 153.7,53.8 156.7,55.1 166.8,65.1 169.3,61.4 172.6,60.4 176.8,57.6 180.1,53.4 184.3,48.4 187.1,50.1 190.1,55.1 191.8,60.1 194.3,61.8 196.8,66.8 201.0,59.3 203.5,60.9 206.8,63.4 209.8,57.6 212.2,59.3 214.3,55.1 216.0,60.1 220.0,48.4 223.3,40.1 225.8,43.1 228.0,41.4 229.7,44.2 231.4,42.6 233.4,45.1 235.9,51.8 240.0,55.9 247.5,60.4 249.7,55.4 252.0,58.4 255.9,58.8 258.1,60.9 260.1,60.1 264.2,60.9 268.4,53.8 270.9,54.3 273.8,51.4 277.6,55.1 283.4,59.3 286.8,62.6 290.1,60.9 293.5,65.1 298.5,65.9 301.0,64.8 303.5,67.3 306.0,65.9 311.0,57.6 313.5,55.1 316.0,53.4 320.2,48.4 322.7,48.7 326.0,51.8 328.5,58.4 330.0,59.3 332.5,60.4 334.2,58.4 336.3,60.4 338.3,58.4 340.4,60.9 342.5,59.8 345.0,62.6 346.7,60.4 348.7,63.1 350.9,61.4 352.5,64.3 354.7,68.4 356.7,65.9 359.2,66.8 361.7,62.6 364.2,60.9 369.2,60.4 374.2,66.8 378.4,57.1 381.8,58.1 385.1,61.4 388.4,56.8 391.8,58.8 395.9,58.8 401.8,63.1 406.8,60.4 409.8,56.4 413.1,55.4 416.0,58.1 420.2,61.8 425.5,54.3 428.5,58.1 432.7,59.8 436.0,58.8 440.0,61.8 441.3,63.4 444.2,59.3 446.7,55.9 450.0,55.9 453.4,55.1 456.7,56.8 460.0,57.6 462.5,59.3 465.9,52.6 468.4,50.4 471.7,48.4 473.4,50.9 477.6,44.7 482.6,57.6 485.9,58.8 489.2,60.4 490.9,62.1 494.3,58.4 497.6,61.4 505.1,68.1 516.8,68.4 520.1,62.6 522.6,54.3 524.3,56.4 526.8,55.1 528.5,49.2 531.0,45.9 534.3,42.6 536.5,52.1 539.8,46.4 542.7,48.4 546.8,51.4 550.6,39.2 552.7,36.7 554.4,25.8 556.3,31.8 558.3,33.5 561.2,42.4 564.5,44.9 568.6,52.2 571.0,52.2 574.6,48.7 578.4,52.2 580.8,49.0 583.8,49.8 586.5,45.7 589.0,52.2 593.1,55.5 596.3,56.8 599.1,50.6 605.3,48.7 608.6,41.6 613.1,36.7" fill="none" stroke="#262626" stroke-width="1.4" stroke-linejoin="round"/>
<line x1="62" y1="69.8" x2="618.5" y2="69.8" stroke="#44ee44" stroke-width="2"/>
<polygon points="58.2,69 69.2,63.5 69.2,74.8" fill="#22ee22"/>
<polygon points="221.3,63.2 232,69 221.3,75" fill="#22ee22"/>
<polygon points="242,62.5 230.8,69 242,75" fill="#22ee22"/>
<text x="125.6" y="81.8" font-size="12" fill="#222">Lead-in</text>
<text x="440" y="81" font-size="12" fill="#222">Bump</text>
<text x="621" y="19.8" font-size="11" fill="#222">90</text>
<text x="621" y="38.2" font-size="11" fill="#222">70</text>
<text x="621" y="54.6" font-size="11" fill="#222">50</text>
<text x="621" y="71.6" font-size="11" fill="#222">30</text>
<text x="621" y="88.2" font-size="11" fill="#222">10</text>
<rect x="0.4" y="369.7" width="0.4" height="17.7" fill="#bdbdbd" stroke="#9c9c9c" stroke-width="0.8"/>
<rect x="1.4" y="372.7" width="3.2" height="14.7" fill="#bdbdbd" stroke="#9c9c9c" stroke-width="0.8"/>
<rect x="5.4" y="379.1" width="3.2" height="8.3" fill="#f2bcc2" stroke="#e2939b" stroke-width="0.8"/>
<rect x="9.4" y="381.8" width="0.4" height="5.6" fill="#f2bcc2" stroke="#e2939b" stroke-width="0.8"/>
<rect x="10.4" y="373.9" width="6.2" height="13.5" fill="#bdbdbd" stroke="#9c9c9c" stroke-width="0.8"/>
<rect x="17.4" y="376.4" width="2.2" height="11.0" fill="#f2bcc2" stroke="#e2939b" stroke-width="0.8"/>
<rect x="20.4" y="380.6" width="2.2" height="6.8" fill="#f2bcc2" stroke="#e2939b" stroke-width="0.8"/>
<rect x="23.4" y="377.6" width="4.2" height="9.8" fill="#f2bcc2" stroke="#e2939b" stroke-width="0.8"/>
<rect x="28.4" y="370.9" width="3.2" height="16.5" fill="#bdbdbd" stroke="#9c9c9c" stroke-width="0.8"/>
<rect x="32.4" y="379.4" width="4.2" height="8.0" fill="#f2bcc2" stroke="#e2939b" stroke-width="0.8"/>
<rect x="37.4" y="369.1" width="7.2" height="18.3" fill="#bdbdbd" stroke="#9c9c9c" stroke-width="0.8"/>
<rect x="45.4" y="377.0" width="1.2" height="10.4" fill="#f2bcc2" stroke="#e2939b" stroke-width="0.8"/>
<rect x="47.4" y="374.5" width="5.2" height="12.9" fill="#bdbdbd" stroke="#9c9c9c" stroke-width="0.8"/>
<rect x="53.4" y="379.4" width="1.2" height="8.0" fill="#f2bcc2" stroke="#e2939b" stroke-width="0.8"/>
<rect x="55.4" y="365.4" width="1.2" height="22.0" fill="#bdbdbd" stroke="#9c9c9c" stroke-width="0.8"/>
<rect x="57.4" y="352.7" width="2.2" height="34.7" fill="#bdbdbd" stroke="#9c9c9c" stroke-width="0.8"/>
<rect x="60.4" y="369.1" width="3.2" height="18.3" fill="#f2bcc2" stroke="#e2939b" stroke-width="0.8"/>
<rect x="64.4" y="380.0" width="2.2" height="7.4" fill="#f2bcc2" stroke="#e2939b" stroke-width="0.8"/>
<rect x="67.4" y="377.6" width="2.2" height="9.8" fill="#f2bcc2" stroke="#e2939b" stroke-width="0.8"/>
<rect x="70.4" y="372.1" width="3.2" height="15.3" fill="#f2bcc2" stroke="#e2939b" stroke-width="0.8"/>
<rect x="74.4" y="367.9" width="2.2" height="19.5" fill="#f2bcc2" stroke="#e2939b" stroke-width="0.8"/>
<rect x="77.4" y="377.6" width="2.2" height="9.8" fill="#f2bcc2" stroke="#e2939b" stroke-width="0.8"/>
<rect x="80.4" y="377.0" width="1.2" height="10.4" fill="#bdbdbd" stroke="#9c9c9c" stroke-width="0.8"/>
<rect x="82.4" y="369.7" width="2.7" height="17.7" fill="#f2bcc2" stroke="#e2939b" stroke-width="0.8"/>
<rect x="85.9" y="373.4" width="2.7" height="14.0" fill="#bdbdbd" stroke="#9c9c9c" stroke-width="0.8"/>
<rect x="89.4" y="373.9" width="1.2" height="13.5" fill="#f2bcc2" stroke="#e2939b" stroke-width="0.8"/>
<rect x="91.4" y="365.4" width="2.2" height="22.0" fill="#bdbdbd" stroke="#9c9c9c" stroke-width="0.8"/>
<rect x="94.4" y="370.9" width="1.2" height="16.5" fill="#bdbdbd" stroke="#9c9c9c" stroke-width="0.8"/>
<rect x="96.4" y="375.1" width="1.2" height="12.3" fill="#bdbdbd" stroke="#9c9c9c" stroke-width="0.8"/>
<rect x="98.4" y="378.8" width="1.2" height="8.6" fill="#f2bcc2" stroke="#e2939b" stroke-width="0.8"/>
<rect x="100.4" y="377.6" width="1.7" height="9.8" fill="#bdbdbd" stroke="#9c9c9c" stroke-width="0.8"/>
<rect x="102.9" y="380.0" width="0.4" height="7.4" fill="#f2bcc2" stroke="#e2939b" stroke-width="0.8"/>
<rect x="103.4" y="368.4" width="2.2" height="19.0" fill="#bdbdbd" stroke="#9c9c9c" stroke-width="0.8"/>
<rect x="106.4" y="377.0" width="1.2" height="10.4" fill="#bdbdbd" stroke="#9c9c9c" stroke-width="0.8"/>
<rect x="108.4" y="380.0" width="3.2" height="7.4" fill="#f2bcc2" stroke="#e2939b" stroke-width="0.8"/>
<rect x="112.4" y="381.8" width="1.8" height="5.6" fill="#bdbdbd" stroke="#9c9c9c" stroke-width="0.8"/>
<rect x="115.0" y="381.2" width="1.6" height="6.2" fill="#f2bcc2" stroke="#e2939b" stroke-width="0.8"/>
<rect x="117.4" y="377.0" width="2.2" height="10.4" fill="#f2bcc2" stroke="#e2939b" stroke-width="0.8"/>
<rect x="120.4" y="378.8" width="1.2" height="8.6" fill="#f2bcc2" stroke="#e2939b" stroke-width="0.8"/>
<rect x="122.4" y="382.4" width="0.4" height="5.0" fill="#bdbdbd" stroke="#9c9c9c" stroke-width="0.8"/>
<rect x="123.4" y="381.8" width="3.2" height="5.6" fill="#f2bcc2" stroke="#e2939b" stroke-width="0.8"/>
<rect x="127.4" y="380.6" width="3.2" height="6.8" fill="#bdbdbd" stroke="#9c9c9c" stroke-width="0.8"/>
<rect x="131.4" y="381.2" width="2.2" height="6.2" fill="#f2bcc2" stroke="#e2939b" stroke-width="0.8"/>
<rect x="134.4" y="368.4" width="3.2" height="19.0" fill="#bdbdbd" stroke="#9c9c9c" stroke-width="0.8"/>
<rect x="138.4" y="376.4" width="7.9" height="11.0" fill="#bdbdbd" stroke="#9c9c9c" stroke-width="0.8"/>
<rect x="147.1" y="378.8" width="1.5" height="8.6" fill="#bdbdbd" stroke="#9c9c9c" stroke-width="0.8"/>
<rect x="149.4" y="380.4" width="1.2" height="7.0" fill="#f2bcc2" stroke="#e2939b" stroke-width="0.8"/>
<rect x="311.4" y="372.2" width="1.2" height="15.2" fill="#bdbdbd" stroke="#9c9c9c" stroke-width="0.8"/>
<rect x="319.4" y="374.1" width="1.2" height="13.3" fill="#bdbdbd" stroke="#9c9c9c" stroke-width="0.8"/>
<rect x="345.7" y="373.3" width="1.3" height="14.1" fill="#bdbdbd" stroke="#9c9c9c" stroke-width="0.8"/>
<rect x="353.4" y="363.4" width="2.2" height="24.0" fill="#f2bcc2" stroke="#e2939b" stroke-width="0.8"/>
<rect x="356.4" y="364.8" width="1.2" height="22.6" fill="#bdbdbd" stroke="#9c9c9c" stroke-width="0.8"/>
<rect x="360.4" y="372.2" width="1.2" height="15.2" fill="#f2bcc2" stroke="#e2939b" stroke-width="0.8"/>
<rect x="362.4" y="371.8" width="3.7" height="15.6" fill="#f2bcc2" stroke="#e2939b" stroke-width="0.8"/>
<rect x="373.4" y="366.9" width="1.2" height="20.5" fill="#f2bcc2" stroke="#e2939b" stroke-width="0.8"/>
<rect x="375.4" y="357.4" width="2.2" height="30.0" fill="#bdbdbd" stroke="#9c9c9c" stroke-width="0.8"/>
<rect x="378.4" y="359.4" width="1.2" height="28.0" fill="#bdbdbd" stroke="#9c9c9c" stroke-width="0.8"/>
<rect x="380.4" y="371.8" width="3.8" height="15.6" fill="#f2bcc2" stroke="#e2939b" stroke-width="0.8"/>
<rect x="386.0" y="367.6" width="1.4" height="19.8" fill="#bdbdbd" stroke="#9c9c9c" stroke-width="0.8"/>
<rect x="388.2" y="372.2" width="2.4" height="15.2" fill="#bdbdbd" stroke="#9c9c9c" stroke-width="0.8"/>
<rect x="404.1" y="373.4" width="2.5" height="14.0" fill="#f2bcc2" stroke="#e2939b" stroke-width="0.8"/>
<rect x="408.4" y="357.4" width="1.7" height="30.0" fill="#bdbdbd" stroke="#9c9c9c" stroke-width="0.8"/>
<rect x="414.4" y="373.4" width="1.6" height="14.0" fill="#f2bcc2" stroke="#e2939b" stroke-width="0.8"/>
<rect x="420.4" y="367.6" width="2.0" height="19.8" fill="#f2bcc2" stroke="#e2939b" stroke-width="0.8"/>
<rect x="426.4" y="366.4" width="1.9" height="21.0" fill="#f2bcc2" stroke="#e2939b" stroke-width="0.8"/>
<rect x="429.4" y="370.4" width="4.7" height="17.0" fill="#f2bcc2" stroke="#e2939b" stroke-width="0.8"/>
<rect x="442.4" y="373.4" width="1.2" height="14.0" fill="#bdbdbd" stroke="#9c9c9c" stroke-width="0.8"/>
<rect x="444.4" y="367.6" width="1.8" height="19.8" fill="#f2bcc2" stroke="#e2939b" stroke-width="0.8"/>
<rect x="447.0" y="371.8" width="3.0" height="15.6" fill="#bdbdbd" stroke="#9c9c9c" stroke-width="0.8"/>
<rect x="455.0" y="370.4" width="2.4" height="17.0" fill="#f2bcc2" stroke="#e2939b" stroke-width="0.8"/>
<rect x="458.2" y="355.7" width="2.4" height="31.7" fill="#f2bcc2" stroke="#e2939b" stroke-width="0.8"/>
<rect x="461.4" y="361.6" width="1.2" height="25.8" fill="#f2bcc2" stroke="#e2939b" stroke-width="0.8"/>
<rect x="463.4" y="368.0" width="2.5" height="19.4" fill="#bdbdbd" stroke="#9c9c9c" stroke-width="0.8"/>
<rect x="466.7" y="348.4" width="1.9" height="39.0" fill="#bdbdbd" stroke="#9c9c9c" stroke-width="0.8"/>
<rect x="469.4" y="367.6" width="2.9" height="19.8" fill="#bdbdbd" stroke="#9c9c9c" stroke-width="0.8"/>
<rect x="473.1" y="372.2" width="1.9" height="15.2" fill="#f2bcc2" stroke="#e2939b" stroke-width="0.8"/>
<rect x="475.8" y="358.4" width="2.1" height="29.0" fill="#bdbdbd" stroke="#9c9c9c" stroke-width="0.8"/>
<rect x="478.7" y="359.9" width="1.6" height="27.5" fill="#f2bcc2" stroke="#e2939b" stroke-width="0.8"/>
<rect x="481.1" y="359.4" width="1.5" height="28.0" fill="#f2bcc2" stroke="#e2939b" stroke-width="0.8"/>
<rect x="483.4" y="359.9" width="1.4" height="27.5" fill="#f2bcc2" stroke="#e2939b" stroke-width="0.8"/>
<rect x="485.6" y="366.7" width="3.0" height="20.7" fill="#f2bcc2" stroke="#e2939b" stroke-width="0.8"/>
<rect x="489.4" y="370.4" width="1.5" height="17.0" fill="#f2bcc2" stroke="#e2939b" stroke-width="0.8"/>
<rect x="491.7" y="365.9" width="0.7" height="21.5" fill="#f2bcc2" stroke="#e2939b" stroke-width="0.8"/>
<rect x="493.2" y="359.9" width="1.5" height="27.5" fill="#bdbdbd" stroke="#9c9c9c" stroke-width="0.8"/>
<rect x="495.5" y="363.4" width="0.7" height="24.0" fill="#f2bcc2" stroke="#e2939b" stroke-width="0.8"/>
<rect x="497.0" y="364.4" width="1.5" height="23.0" fill="#f2bcc2" stroke="#e2939b" stroke-width="0.8"/>
<rect x="499.3" y="367.4" width="0.4" height="20.0" fill="#f2bcc2" stroke="#e2939b" stroke-width="0.8"/>
<rect x="500.4" y="368.4" width="3.4" height="19.0" fill="#f2bcc2" stroke="#e2939b" stroke-width="0.8"/>
<rect x="504.6" y="355.8" width="3.5" height="31.6" fill="#f2bcc2" stroke="#e2939b" stroke-width="0.8"/>
<rect x="508.9" y="326.1" width="1.7" height="61.3" fill="#bdbdbd" stroke="#9c9c9c" stroke-width="0.8"/>
<rect x="511.4" y="332.4" width="1.2" height="55.0" fill="#bdbdbd" stroke="#9c9c9c" stroke-width="0.8"/>
<rect x="513.4" y="309.2" width="2.1" height="78.2" fill="#f2bcc2" stroke="#e2939b" stroke-width="0.8"/>
<rect x="516.3" y="332.4" width="1.3" height="55.0" fill="#bdbdbd" stroke="#9c9c9c" stroke-width="0.8"/>
<rect x="518.4" y="336.7" width="2.4" height="50.7" fill="#bdbdbd" stroke="#9c9c9c" stroke-width="0.8"/>
<rect x="521.6" y="349.4" width="1.3" height="38.0" fill="#bdbdbd" stroke="#9c9c9c" stroke-width="0.8"/>
<rect x="523.7" y="366.4" width="1.3" height="21.0" fill="#f2bcc2" stroke="#e2939b" stroke-width="0.8"/>
<rect x="525.8" y="361.1" width="1.4" height="26.3" fill="#bdbdbd" stroke="#9c9c9c" stroke-width="0.8"/>
<rect x="528.0" y="350.4" width="2.3" height="37.0" fill="#bdbdbd" stroke="#9c9c9c" stroke-width="0.8"/>
<rect x="531.1" y="353.7" width="1.4" height="33.7" fill="#f2bcc2" stroke="#e2939b" stroke-width="0.8"/>
<rect x="533.3" y="353.7" width="2.3" height="33.7" fill="#bdbdbd" stroke="#9c9c9c" stroke-width="0.8"/>
<rect x="536.4" y="368.4" width="1.4" height="19.0" fill="#f2bcc2" stroke="#e2939b" stroke-width="0.8"/>
<rect x="538.6" y="364.3" width="2.3" height="23.1" fill="#bdbdbd" stroke="#9c9c9c" stroke-width="0.8"/>
<rect x="541.7" y="370.6" width="1.4" height="16.8" fill="#f2bcc2" stroke="#e2939b" stroke-width="0.8"/>
<rect x="543.9" y="374.9" width="1.3" height="12.5" fill="#f2bcc2" stroke="#e2939b" stroke-width="0.8"/>
<rect x="546.0" y="374.9" width="2.4" height="12.5" fill="#f2bcc2" stroke="#e2939b" stroke-width="0.8"/>
<rect x="549.2" y="332.4" width="2.4" height="55.0" fill="#bdbdbd" stroke="#9c9c9c" stroke-width="0.8"/>
<rect x="552.4" y="315.4" width="1.9" height="72.0" fill="#bdbdbd" stroke="#9c9c9c" stroke-width="0.8"/>
<rect x="555.1" y="309.2" width="2.2" height="78.2" fill="#f2bcc2" stroke="#e2939b" stroke-width="0.8"/>
<rect x="558.1" y="351.6" width="3.0" height="35.8" fill="#f2bcc2" stroke="#e2939b" stroke-width="0.8"/>
<rect x="561.9" y="351.6" width="2.4" height="35.8" fill="#f2bcc2" stroke="#e2939b" stroke-width="0.8"/>
<rect x="565.1" y="333.5" width="2.3" height="53.9" fill="#f2bcc2" stroke="#e2939b" stroke-width="0.8"/>
<rect x="568.2" y="336.7" width="1.4" height="50.7" fill="#f2bcc2" stroke="#e2939b" stroke-width="0.8"/>
<rect x="570.4" y="349.4" width="3.4" height="38.0" fill="#bdbdbd" stroke="#9c9c9c" stroke-width="0.8"/>
<rect x="574.6" y="350.4" width="1.3" height="37.0" fill="#bdbdbd" stroke="#9c9c9c" stroke-width="0.8"/>
<rect x="576.7" y="348.4" width="1.3" height="39.0" fill="#f2bcc2" stroke="#e2939b" stroke-width="0.8"/>
<rect x="578.8" y="367.4" width="1.4" height="20.0" fill="#f2bcc2" stroke="#e2939b" stroke-width="0.8"/>
<rect x="581.0" y="361.7" width="2.3" height="25.7" fill="#bdbdbd" stroke="#9c9c9c" stroke-width="0.8"/>
<rect x="584.1" y="350.4" width="1.4" height="37.0" fill="#f2bcc2" stroke="#e2939b" stroke-width="0.8"/>
<rect x="586.3" y="347.4" width="2.3" height="40.0" fill="#bdbdbd" stroke="#9c9c9c" stroke-width="0.8"/>
<rect x="589.4" y="346.4" width="1.4" height="41.0" fill="#f2bcc2" stroke="#e2939b" stroke-width="0.8"/>
<rect x="591.6" y="349.4" width="1.3" height="38.0" fill="#f2bcc2" stroke="#e2939b" stroke-width="0.8"/>
<rect x="593.7" y="360.0" width="1.3" height="27.4" fill="#f2bcc2" stroke="#e2939b" stroke-width="0.8"/>
<rect x="595.8" y="353.7" width="1.3" height="33.7" fill="#f2bcc2" stroke="#e2939b" stroke-width="0.8"/>
<rect x="597.9" y="341.0" width="1.8" height="46.4" fill="#bdbdbd" stroke="#9c9c9c" stroke-width="0.8"/>
<rect x="600.5" y="357.9" width="1.3" height="29.5" fill="#bdbdbd" stroke="#9c9c9c" stroke-width="0.8"/>
<rect x="602.6" y="355.8" width="1.9" height="31.6" fill="#bdbdbd" stroke="#9c9c9c" stroke-width="0.8"/>
<rect x="605.3" y="368.4" width="1.4" height="19.0" fill="#f2bcc2" stroke="#e2939b" stroke-width="0.8"/>
<rect x="607.5" y="357.9" width="1.3" height="29.5" fill="#bdbdbd" stroke="#9c9c9c" stroke-width="0.8"/>
<rect x="609.6" y="359.0" width="1.3" height="28.4" fill="#bdbdbd" stroke="#9c9c9c" stroke-width="0.8"/>
<rect x="611.7" y="357.9" width="2.4" height="29.5" fill="#bdbdbd" stroke="#9c9c9c" stroke-width="0.8"/>
<path d="M0.0,313.2 C3.0,311.6 13.2,306.0 18.0,303.3 C22.8,300.6 25.7,299.1 28.7,297.0 C31.7,294.9 32.6,293.6 35.9,290.8 C39.2,288.0 45.5,282.9 48.5,280.0 C51.5,277.1 51.0,277.7 53.8,273.2 C56.6,268.7 61.8,257.8 65.3,252.8 C68.8,247.8 71.2,245.8 75.0,243.0 C78.8,240.2 83.9,237.8 88.1,235.7 C92.3,233.6 95.3,232.7 100.0,230.5 C104.7,228.3 110.3,224.9 116.3,222.6 C122.3,220.3 129.9,219.1 135.9,216.9 C141.9,214.7 147.8,211.4 152.2,209.6 C156.5,207.8 157.7,207.4 162.0,206.3 C166.3,205.2 172.9,204.2 178.3,203.0 C183.7,201.8 191.0,199.8 194.6,199.0 C198.2,198.2 196.4,198.7 200.0,198.0 C203.6,197.3 210.9,196.1 216.3,195.0 C221.7,193.9 227.2,192.4 232.6,191.4 C238.0,190.4 243.4,189.6 248.9,188.9 C254.4,188.2 259.9,187.9 265.3,187.3 C270.8,186.8 275.8,185.9 281.6,185.6 C287.4,185.2 295.6,185.3 300.0,185.2 C304.4,185.1 304.1,185.1 308.2,184.8 C312.3,184.5 318.2,183.6 324.5,183.2 C330.8,182.8 333.1,182.5 345.7,182.4 C358.3,182.3 387.7,182.4 400.0,182.6 C412.3,182.8 414.2,183.0 419.6,183.4 C425.0,183.8 426.6,184.2 432.6,185.1 C438.6,186.0 447.9,186.2 455.5,188.8 C463.1,191.4 470.9,197.7 478.3,200.6 C485.7,203.5 494.4,204.4 500.0,206.0 C505.6,207.6 506.5,208.3 512.1,210.2 C517.7,212.1 525.8,214.0 533.8,217.4 C541.8,220.8 552.7,227.3 560.3,230.7 C567.9,234.1 574.0,235.6 579.6,237.9 C585.2,240.2 588.7,242.5 594.1,244.7 C599.5,246.9 609.2,250.1 612.2,251.2" fill="none" stroke="#d8485c" stroke-width="1.3"/>
<path d="M0.0,286.2 C2.7,282.9 11.4,272.0 16.3,266.7 C21.2,261.4 25.9,258.2 29.4,254.4 C32.9,250.6 34.7,247.9 37.5,243.8 C40.3,239.7 43.4,234.6 46.2,230.0 C49.0,225.4 52.0,220.9 54.2,216.4 C56.4,211.9 57.7,207.3 59.4,203.1 C61.1,198.9 62.8,194.8 64.5,191.4 C66.2,188.0 67.8,185.3 69.6,182.6 C71.4,179.9 73.5,177.2 75.5,175.2 C77.5,173.2 79.2,172.1 81.4,170.8 C83.6,169.5 86.0,168.5 88.7,167.2 C91.4,165.9 94.0,164.6 97.5,162.8 C101.0,161.0 106.3,157.8 110.0,156.2 C113.7,154.6 115.8,154.1 119.6,153.0 C123.4,151.9 128.8,150.6 132.6,149.8 C136.4,149.0 139.7,148.7 142.4,148.1 C145.1,147.5 146.7,146.6 148.9,146.5 C151.1,146.4 153.3,146.6 155.5,147.3 C157.7,148.0 159.6,149.0 162.0,150.6 C164.4,152.2 167.4,155.5 170.1,157.1 C172.8,158.7 175.3,159.7 178.3,160.4 C181.3,161.1 184.5,160.7 188.1,161.2 C191.7,161.7 196.4,162.5 200.0,163.2 C203.6,163.9 206.5,164.4 209.8,165.3 C213.1,166.2 216.3,168.2 219.6,168.5 C222.9,168.8 226.1,166.9 229.4,166.9 C232.7,166.9 235.9,167.3 239.2,168.5 C242.4,169.7 245.7,172.4 248.9,174.2 C252.2,176.0 255.4,177.9 258.7,179.1 C262.0,180.3 265.2,180.9 268.5,181.6 C271.8,182.3 275.0,182.1 278.3,183.2 C281.6,184.3 284.5,186.7 288.1,188.1 C291.7,189.5 296.4,190.2 300.0,191.5 C303.6,192.8 306.3,194.6 309.8,195.7 C313.3,196.8 317.9,196.8 321.2,198.2 C324.5,199.6 326.1,201.3 329.4,203.9 C332.7,206.5 336.7,211.0 340.8,213.7 C344.9,216.4 349.7,217.9 353.8,220.2 C357.9,222.5 361.8,224.9 365.3,227.5 C368.8,230.1 371.8,233.1 375.0,235.7 C378.2,238.3 380.6,240.4 384.8,243.0 C389.0,245.6 395.6,248.9 400.0,251.4 C404.4,253.9 407.9,255.7 411.4,258.2 C414.9,260.7 417.7,262.9 421.2,266.3 C424.7,269.7 429.1,275.0 432.6,278.5 C436.1,282.0 438.9,284.5 442.4,287.5 C445.9,290.5 450.0,294.3 453.8,296.5 C457.6,298.7 461.5,299.2 465.3,300.6 C469.1,302.0 472.9,303.1 476.7,304.6 C480.5,306.1 484.2,307.8 488.1,309.5 C492.0,311.2 496.2,312.8 500.0,314.6 C503.8,316.4 507.1,318.4 510.6,320.4 C514.1,322.4 517.3,325.2 521.2,326.8 C525.1,328.4 530.4,329.1 533.9,330.0 C537.4,330.9 539.2,331.8 542.4,332.1 C545.6,332.5 549.5,332.7 553.0,332.1 C556.5,331.5 559.0,328.7 563.6,328.3 C568.2,327.9 576.0,329.5 580.6,329.5 C585.2,329.5 588.4,328.6 591.2,328.3 C594.0,328.0 595.0,328.3 597.5,327.8 C600.0,327.3 603.4,326.4 606.0,325.3 C608.6,324.2 612.2,322.1 613.4,321.5" fill="none" stroke="#4040a4" stroke-width="1.3"/>
<path d="M0.0,274.0 C1.6,272.0 6.5,267.1 9.8,261.8 C13.1,256.5 16.2,248.3 19.6,242.2 C23.0,236.1 27.1,229.8 30.0,225.2 C33.0,220.6 34.6,219.3 37.3,214.9 C40.0,210.5 43.2,204.3 46.2,198.7 C49.2,193.1 52.6,186.7 55.0,181.1 C57.4,175.5 59.0,170.1 60.8,165.0 C62.6,159.9 64.3,153.9 66.0,150.3 C67.7,146.8 69.0,146.0 71.1,143.7 C73.1,141.4 75.7,138.3 78.3,136.7 C80.9,135.1 84.0,134.6 86.5,134.3 C89.0,134.0 90.8,134.3 93.0,135.1 C95.2,135.9 97.8,137.2 100.0,139.2 C102.2,141.2 104.3,144.6 106.5,147.3 C108.7,150.0 110.0,153.1 113.0,155.5 C116.0,157.9 121.0,160.9 124.5,162.0 C128.1,163.1 131.3,162.4 134.3,162.0 C137.3,161.6 140.0,160.4 142.4,159.5 C144.8,158.6 146.2,157.1 148.9,156.3 C151.6,155.5 155.4,154.6 158.7,154.6 C162.0,154.6 165.2,155.6 168.5,156.3 C171.8,157.0 175.3,157.8 178.3,158.7 C181.3,159.6 184.1,160.4 186.5,162.0 C188.9,163.6 190.8,166.5 193.0,168.5 C195.2,170.5 197.2,172.6 200.0,174.2 C202.8,175.8 206.5,177.4 209.8,178.3 C213.1,179.2 215.8,179.9 219.6,179.9 C223.4,179.9 228.8,178.8 232.6,178.3 C236.4,177.8 239.1,176.8 242.4,176.7 C245.7,176.6 249.2,177.0 252.2,177.5 C255.2,178.0 257.7,178.4 260.4,179.9 C263.1,181.4 265.8,184.3 268.5,186.5 C271.2,188.7 274.3,190.9 276.7,193.0 C279.1,195.1 280.6,197.5 283.0,199.0 C285.4,200.5 288.6,200.6 291.4,202.2 C294.2,203.8 296.9,206.5 300.0,208.8 C303.1,211.1 306.5,213.7 309.8,216.1 C313.1,218.5 316.3,221.9 319.6,223.4 C322.9,224.9 326.1,224.4 329.4,225.1 C332.7,225.8 336.2,226.8 339.2,227.5 C342.2,228.2 344.6,227.8 347.3,229.2 C350.0,230.6 352.5,232.4 355.5,235.7 C358.5,238.9 362.6,244.9 365.3,248.7 C368.0,252.5 369.4,255.2 371.8,258.5 C374.2,261.8 376.9,265.0 379.9,268.3 C382.9,271.6 386.3,275.6 389.7,278.1 C393.1,280.6 396.6,281.1 400.0,283.2 C403.4,285.3 406.5,289.0 409.8,290.8 C413.1,292.6 416.3,292.6 419.6,294.0 C422.9,295.4 425.9,296.6 429.4,298.9 C432.9,301.2 437.0,305.6 440.8,307.9 C444.6,310.2 448.7,311.3 452.2,312.8 C455.7,314.3 459.0,315.8 462.0,316.9 C465.0,318.0 467.1,319.4 470.1,319.3 C473.1,319.2 476.6,316.5 479.9,316.1 C483.2,315.7 486.3,316.0 489.7,316.9 C493.1,317.8 496.9,319.8 500.0,321.3 C503.1,322.8 505.9,322.9 508.5,325.7 C511.1,328.5 513.4,334.5 515.9,338.4 C518.4,342.3 520.3,346.5 523.3,349.0 C526.3,351.5 530.4,352.9 533.9,353.3 C537.4,353.7 541.3,353.0 544.5,351.2 C547.7,349.4 550.2,346.9 553.0,342.7 C555.8,338.4 559.0,329.9 561.5,325.7 C564.0,321.4 565.3,319.0 567.8,317.2 C570.3,315.4 573.5,316.2 576.3,315.1 C579.1,314.1 582.0,311.8 584.8,310.9 C587.6,310.0 590.8,308.9 593.3,309.8 C595.8,310.7 597.3,315.0 599.6,316.2 C601.9,317.4 604.8,317.5 607.1,317.2 C609.4,316.9 612.4,314.6 613.4,314.1" fill="none" stroke="#2a802a" stroke-width="1.3"/>
<line x1="0.0" y1="245.5" x2="1.6" y2="229.2" stroke="#383838" stroke-width="1.35" stroke-linecap="round"/>
<line x1="1.6" y1="229.2" x2="3.3" y2="228.3" stroke="#383838" stroke-width="1.35" stroke-linecap="round"/>
<line x1="3.3" y1="228.3" x2="6.5" y2="231.6" stroke="#dc3c50" stroke-width="1.35" stroke-linecap="round"/>
<line x1="6.5" y1="231.6" x2="9.5" y2="239.8" stroke="#dc3c50" stroke-width="1.35" stroke-linecap="round"/>
<line x1="9.5" y1="239.8" x2="11.7" y2="217.7" stroke="#383838" stroke-width="1.35" stroke-linecap="round"/>
<line x1="11.7" y1="217.7" x2="13.9" y2="216.1" stroke="#383838" stroke-width="1.35" stroke-linecap="round"/>
<line x1="13.9" y1="216.1" x2="16.3" y2="207.6" stroke="#383838" stroke-width="1.35" stroke-linecap="round"/>
<line x1="16.3" y1="207.6" x2="19.6" y2="214.5" stroke="#dc3c50" stroke-width="1.35" stroke-linecap="round"/>
<line x1="19.6" y1="214.5" x2="22.0" y2="214.5" stroke="#dc3c50" stroke-width="1.35" stroke-linecap="round"/>
<line x1="22.0" y1="214.5" x2="24.1" y2="206.3" stroke="#383838" stroke-width="1.35" stroke-linecap="round"/>
<line x1="24.1" y1="206.3" x2="25.8" y2="215.3" stroke="#dc3c50" stroke-width="1.35" stroke-linecap="round"/>
<line x1="25.8" y1="215.3" x2="29.7" y2="187.3" stroke="#383838" stroke-width="1.35" stroke-linecap="round"/>
<line x1="29.7" y1="187.3" x2="35.0" y2="203.0" stroke="#dc3c50" stroke-width="1.35" stroke-linecap="round"/>
<line x1="35.0" y1="203.0" x2="37.0" y2="189.0" stroke="#383838" stroke-width="1.35" stroke-linecap="round"/>
<line x1="37.0" y1="189.0" x2="40.0" y2="171.8" stroke="#383838" stroke-width="1.35" stroke-linecap="round"/>
<line x1="40.0" y1="171.8" x2="43.7" y2="166.1" stroke="#383838" stroke-width="1.35" stroke-linecap="round"/>
<line x1="43.7" y1="166.1" x2="46.0" y2="168.5" stroke="#dc3c50" stroke-width="1.35" stroke-linecap="round"/>
<line x1="46.0" y1="168.5" x2="48.9" y2="158.7" stroke="#383838" stroke-width="1.35" stroke-linecap="round"/>
<line x1="48.9" y1="158.7" x2="52.2" y2="147.3" stroke="#383838" stroke-width="1.35" stroke-linecap="round"/>
<line x1="52.2" y1="147.3" x2="53.8" y2="148.9" stroke="#dc3c50" stroke-width="1.35" stroke-linecap="round"/>
<line x1="53.8" y1="148.9" x2="56.3" y2="121.2" stroke="#383838" stroke-width="1.35" stroke-linecap="round"/>
<line x1="56.3" y1="121.2" x2="58.7" y2="114.7" stroke="#383838" stroke-width="1.35" stroke-linecap="round"/>
<line x1="58.7" y1="114.7" x2="60.7" y2="107.3" stroke="#383838" stroke-width="1.35" stroke-linecap="round"/>
<line x1="60.7" y1="107.3" x2="62.8" y2="111.1" stroke="#dc3c50" stroke-width="1.35" stroke-linecap="round"/>
<line x1="62.8" y1="111.1" x2="65.3" y2="109.8" stroke="#383838" stroke-width="1.35" stroke-linecap="round"/>
<line x1="65.3" y1="109.8" x2="68.5" y2="121.2" stroke="#dc3c50" stroke-width="1.35" stroke-linecap="round"/>
<line x1="68.5" y1="121.2" x2="72.6" y2="140.0" stroke="#dc3c50" stroke-width="1.35" stroke-linecap="round"/>
<line x1="72.6" y1="140.0" x2="75.0" y2="129.4" stroke="#383838" stroke-width="1.35" stroke-linecap="round"/>
<line x1="75.0" y1="129.4" x2="78.0" y2="148.1" stroke="#dc3c50" stroke-width="1.35" stroke-linecap="round"/>
<line x1="78.0" y1="148.1" x2="79.9" y2="148.9" stroke="#dc3c50" stroke-width="1.35" stroke-linecap="round"/>
<line x1="79.9" y1="148.9" x2="84.8" y2="162.8" stroke="#dc3c50" stroke-width="1.35" stroke-linecap="round"/>
<line x1="84.8" y1="162.8" x2="88.1" y2="160.4" stroke="#383838" stroke-width="1.35" stroke-linecap="round"/>
<line x1="88.1" y1="160.4" x2="91.0" y2="172.6" stroke="#dc3c50" stroke-width="1.35" stroke-linecap="round"/>
<line x1="91.0" y1="172.6" x2="95.4" y2="156.3" stroke="#383838" stroke-width="1.35" stroke-linecap="round"/>
<line x1="95.4" y1="156.3" x2="100.0" y2="153.5" stroke="#383838" stroke-width="1.35" stroke-linecap="round"/>
<line x1="100.0" y1="153.5" x2="102.4" y2="157.1" stroke="#dc3c50" stroke-width="1.35" stroke-linecap="round"/>
<line x1="102.4" y1="157.1" x2="104.1" y2="153.8" stroke="#383838" stroke-width="1.35" stroke-linecap="round"/>
<line x1="104.1" y1="153.8" x2="106.5" y2="152.5" stroke="#383838" stroke-width="1.35" stroke-linecap="round"/>
<line x1="106.5" y1="152.5" x2="110.6" y2="166.1" stroke="#dc3c50" stroke-width="1.35" stroke-linecap="round"/>
<line x1="110.6" y1="166.1" x2="113.9" y2="162.8" stroke="#383838" stroke-width="1.35" stroke-linecap="round"/>
<line x1="113.9" y1="162.8" x2="120.4" y2="170.1" stroke="#dc3c50" stroke-width="1.35" stroke-linecap="round"/>
<line x1="120.4" y1="170.1" x2="123.7" y2="164.4" stroke="#383838" stroke-width="1.35" stroke-linecap="round"/>
<line x1="123.7" y1="164.4" x2="126.4" y2="170.1" stroke="#dc3c50" stroke-width="1.35" stroke-linecap="round"/>
<line x1="126.4" y1="170.1" x2="129.4" y2="164.4" stroke="#383838" stroke-width="1.35" stroke-linecap="round"/>
<line x1="129.4" y1="164.4" x2="132.6" y2="166.9" stroke="#dc3c50" stroke-width="1.35" stroke-linecap="round"/>
<line x1="132.6" y1="166.9" x2="135.1" y2="158.7" stroke="#383838" stroke-width="1.35" stroke-linecap="round"/>
<line x1="135.1" y1="158.7" x2="138.3" y2="152.2" stroke="#383838" stroke-width="1.35" stroke-linecap="round"/>
<line x1="138.3" y1="152.2" x2="140.8" y2="142.4" stroke="#383838" stroke-width="1.35" stroke-linecap="round"/>
<line x1="140.8" y1="142.4" x2="143.7" y2="140.0" stroke="#383838" stroke-width="1.35" stroke-linecap="round"/>
<line x1="143.7" y1="140.0" x2="146.5" y2="133.4" stroke="#383838" stroke-width="1.35" stroke-linecap="round"/>
<line x1="146.5" y1="133.4" x2="148.9" y2="139.2" stroke="#dc3c50" stroke-width="1.35" stroke-linecap="round"/>
<line x1="148.9" y1="139.2" x2="151.4" y2="148.9" stroke="#dc3c50" stroke-width="1.35" stroke-linecap="round"/>
<line x1="151.4" y1="148.9" x2="153.8" y2="152.2" stroke="#dc3c50" stroke-width="1.35" stroke-linecap="round"/>
<line x1="153.8" y1="152.2" x2="157.1" y2="157.1" stroke="#dc3c50" stroke-width="1.35" stroke-linecap="round"/>
<line x1="157.1" y1="157.1" x2="166.9" y2="185.6" stroke="#dc3c50" stroke-width="1.35" stroke-linecap="round"/>
<line x1="166.9" y1="185.6" x2="169.3" y2="177.5" stroke="#383838" stroke-width="1.35" stroke-linecap="round"/>
<line x1="169.3" y1="177.5" x2="171.8" y2="178.3" stroke="#dc3c50" stroke-width="1.35" stroke-linecap="round"/>
<line x1="171.8" y1="178.3" x2="176.7" y2="173.4" stroke="#383838" stroke-width="1.35" stroke-linecap="round"/>
<line x1="176.7" y1="173.4" x2="180.8" y2="168.5" stroke="#383838" stroke-width="1.35" stroke-linecap="round"/>
<line x1="180.8" y1="168.5" x2="184.0" y2="161.2" stroke="#383838" stroke-width="1.35" stroke-linecap="round"/>
<line x1="184.0" y1="161.2" x2="187.3" y2="164.4" stroke="#dc3c50" stroke-width="1.35" stroke-linecap="round"/>
<line x1="187.3" y1="164.4" x2="191.4" y2="173.4" stroke="#dc3c50" stroke-width="1.35" stroke-linecap="round"/>
<line x1="191.4" y1="173.4" x2="196.2" y2="184.8" stroke="#dc3c50" stroke-width="1.35" stroke-linecap="round"/>
<line x1="196.2" y1="184.8" x2="198.3" y2="199.5" stroke="#dc3c50" stroke-width="1.35" stroke-linecap="round"/>
<line x1="198.3" y1="199.5" x2="200.0" y2="188.1" stroke="#383838" stroke-width="1.35" stroke-linecap="round"/>
<line x1="200.0" y1="188.1" x2="202.4" y2="184.8" stroke="#383838" stroke-width="1.35" stroke-linecap="round"/>
<line x1="202.4" y1="184.8" x2="205.7" y2="194.6" stroke="#dc3c50" stroke-width="1.35" stroke-linecap="round"/>
<line x1="205.7" y1="194.6" x2="209.0" y2="188.1" stroke="#383838" stroke-width="1.35" stroke-linecap="round"/>
<line x1="209.0" y1="188.1" x2="210.6" y2="190.5" stroke="#dc3c50" stroke-width="1.35" stroke-linecap="round"/>
<line x1="210.6" y1="190.5" x2="213.4" y2="183.2" stroke="#383838" stroke-width="1.35" stroke-linecap="round"/>
<line x1="213.4" y1="183.2" x2="215.5" y2="197.1" stroke="#dc3c50" stroke-width="1.35" stroke-linecap="round"/>
<line x1="215.5" y1="197.1" x2="218.8" y2="179.9" stroke="#383838" stroke-width="1.35" stroke-linecap="round"/>
<line x1="218.8" y1="179.9" x2="222.0" y2="162.8" stroke="#383838" stroke-width="1.35" stroke-linecap="round"/>
<line x1="222.0" y1="162.8" x2="224.1" y2="158.7" stroke="#383838" stroke-width="1.35" stroke-linecap="round"/>
<line x1="224.1" y1="158.7" x2="226.4" y2="163.6" stroke="#dc3c50" stroke-width="1.35" stroke-linecap="round"/>
<line x1="226.4" y1="163.6" x2="228.1" y2="159.5" stroke="#383838" stroke-width="1.35" stroke-linecap="round"/>
<line x1="228.1" y1="159.5" x2="229.7" y2="166.1" stroke="#dc3c50" stroke-width="1.35" stroke-linecap="round"/>
<line x1="229.7" y1="166.1" x2="231.8" y2="156.3" stroke="#383838" stroke-width="1.35" stroke-linecap="round"/>
<line x1="231.8" y1="156.3" x2="234.3" y2="162.8" stroke="#dc3c50" stroke-width="1.35" stroke-linecap="round"/>
<line x1="234.3" y1="162.8" x2="236.7" y2="176.7" stroke="#dc3c50" stroke-width="1.35" stroke-linecap="round"/>
<line x1="236.7" y1="176.7" x2="240.0" y2="186.5" stroke="#dc3c50" stroke-width="1.35" stroke-linecap="round"/>
<line x1="240.0" y1="186.5" x2="244.0" y2="194.6" stroke="#dc3c50" stroke-width="1.35" stroke-linecap="round"/>
<line x1="244.0" y1="194.6" x2="248.0" y2="199.0" stroke="#dc3c50" stroke-width="1.35" stroke-linecap="round"/>
<line x1="248.0" y1="199.0" x2="250.5" y2="191.5" stroke="#383838" stroke-width="1.35" stroke-linecap="round"/>
<line x1="250.5" y1="191.5" x2="254.6" y2="197.0" stroke="#dc3c50" stroke-width="1.35" stroke-linecap="round"/>
<line x1="254.6" y1="197.0" x2="257.9" y2="206.3" stroke="#dc3c50" stroke-width="1.35" stroke-linecap="round"/>
<line x1="257.9" y1="206.3" x2="260.4" y2="204.7" stroke="#383838" stroke-width="1.35" stroke-linecap="round"/>
<line x1="260.4" y1="204.7" x2="262.8" y2="211.2" stroke="#dc3c50" stroke-width="1.35" stroke-linecap="round"/>
<line x1="262.8" y1="211.2" x2="265.3" y2="209.6" stroke="#383838" stroke-width="1.35" stroke-linecap="round"/>
<line x1="265.3" y1="209.6" x2="267.7" y2="196.5" stroke="#383838" stroke-width="1.35" stroke-linecap="round"/>
<line x1="267.7" y1="196.5" x2="270.1" y2="194.1" stroke="#383838" stroke-width="1.35" stroke-linecap="round"/>
<line x1="270.1" y1="194.1" x2="272.6" y2="194.9" stroke="#dc3c50" stroke-width="1.35" stroke-linecap="round"/>
<line x1="272.6" y1="194.9" x2="274.2" y2="190.8" stroke="#383838" stroke-width="1.35" stroke-linecap="round"/>
<line x1="274.2" y1="190.8" x2="276.7" y2="196.5" stroke="#dc3c50" stroke-width="1.35" stroke-linecap="round"/>
<line x1="276.7" y1="196.5" x2="281.6" y2="204.7" stroke="#dc3c50" stroke-width="1.35" stroke-linecap="round"/>
<line x1="281.6" y1="204.7" x2="285.6" y2="216.9" stroke="#dc3c50" stroke-width="1.35" stroke-linecap="round"/>
<line x1="285.6" y1="216.9" x2="289.7" y2="214.5" stroke="#383838" stroke-width="1.35" stroke-linecap="round"/>
<line x1="289.7" y1="214.5" x2="293.0" y2="229.2" stroke="#dc3c50" stroke-width="1.35" stroke-linecap="round"/>
<line x1="293.0" y1="229.2" x2="297.9" y2="230.0" stroke="#dc3c50" stroke-width="1.35" stroke-linecap="round"/>
<line x1="297.9" y1="230.0" x2="300.0" y2="228.3" stroke="#383838" stroke-width="1.35" stroke-linecap="round"/>
<line x1="300.0" y1="228.3" x2="302.4" y2="242.2" stroke="#dc3c50" stroke-width="1.35" stroke-linecap="round"/>
<line x1="302.4" y1="242.2" x2="306.5" y2="235.7" stroke="#383838" stroke-width="1.35" stroke-linecap="round"/>
<line x1="306.5" y1="235.7" x2="310.6" y2="229.2" stroke="#383838" stroke-width="1.35" stroke-linecap="round"/>
<line x1="310.6" y1="229.2" x2="312.7" y2="220.2" stroke="#383838" stroke-width="1.35" stroke-linecap="round"/>
<line x1="312.7" y1="220.2" x2="314.7" y2="229.2" stroke="#dc3c50" stroke-width="1.35" stroke-linecap="round"/>
<line x1="314.7" y1="229.2" x2="316.3" y2="222.6" stroke="#383838" stroke-width="1.35" stroke-linecap="round"/>
<line x1="316.3" y1="222.6" x2="318.8" y2="216.9" stroke="#383838" stroke-width="1.35" stroke-linecap="round"/>
<line x1="318.8" y1="216.9" x2="322.0" y2="210.4" stroke="#383838" stroke-width="1.35" stroke-linecap="round"/>
<line x1="322.0" y1="210.4" x2="324.5" y2="213.7" stroke="#dc3c50" stroke-width="1.35" stroke-linecap="round"/>
<line x1="324.5" y1="213.7" x2="326.4" y2="215.3" stroke="#dc3c50" stroke-width="1.35" stroke-linecap="round"/>
<line x1="326.4" y1="215.3" x2="328.1" y2="226.7" stroke="#dc3c50" stroke-width="1.35" stroke-linecap="round"/>
<line x1="328.1" y1="226.7" x2="330.2" y2="232.4" stroke="#dc3c50" stroke-width="1.35" stroke-linecap="round"/>
<line x1="330.2" y1="232.4" x2="333.4" y2="236.5" stroke="#dc3c50" stroke-width="1.35" stroke-linecap="round"/>
<line x1="333.4" y1="236.5" x2="335.1" y2="234.0" stroke="#383838" stroke-width="1.35" stroke-linecap="round"/>
<line x1="335.1" y1="234.0" x2="336.7" y2="236.5" stroke="#dc3c50" stroke-width="1.35" stroke-linecap="round"/>
<line x1="336.7" y1="236.5" x2="338.3" y2="234.0" stroke="#383838" stroke-width="1.35" stroke-linecap="round"/>
<line x1="338.3" y1="234.0" x2="340.8" y2="242.2" stroke="#dc3c50" stroke-width="1.35" stroke-linecap="round"/>
<line x1="340.8" y1="242.2" x2="343.2" y2="241.4" stroke="#383838" stroke-width="1.35" stroke-linecap="round"/>
<line x1="343.2" y1="241.4" x2="344.9" y2="247.1" stroke="#dc3c50" stroke-width="1.35" stroke-linecap="round"/>
<line x1="344.9" y1="247.1" x2="347.3" y2="243.0" stroke="#383838" stroke-width="1.35" stroke-linecap="round"/>
<line x1="347.3" y1="243.0" x2="349.8" y2="254.4" stroke="#dc3c50" stroke-width="1.35" stroke-linecap="round"/>
<line x1="349.8" y1="254.4" x2="352.2" y2="249.5" stroke="#383838" stroke-width="1.35" stroke-linecap="round"/>
<line x1="352.2" y1="249.5" x2="353.8" y2="278.1" stroke="#dc3c50" stroke-width="1.35" stroke-linecap="round"/>
<line x1="353.8" y1="278.1" x2="354.8" y2="287.6" stroke="#dc3c50" stroke-width="1.35" stroke-linecap="round"/>
<line x1="354.8" y1="287.6" x2="356.8" y2="280.8" stroke="#383838" stroke-width="1.35" stroke-linecap="round"/>
<line x1="356.8" y1="280.8" x2="358.7" y2="288.6" stroke="#dc3c50" stroke-width="1.35" stroke-linecap="round"/>
<line x1="358.7" y1="288.6" x2="361.6" y2="272.9" stroke="#383838" stroke-width="1.35" stroke-linecap="round"/>
<line x1="361.6" y1="272.9" x2="363.6" y2="276.8" stroke="#dc3c50" stroke-width="1.35" stroke-linecap="round"/>
<line x1="363.6" y1="276.8" x2="366.5" y2="271.0" stroke="#383838" stroke-width="1.35" stroke-linecap="round"/>
<line x1="366.5" y1="271.0" x2="369.5" y2="272.0" stroke="#dc3c50" stroke-width="1.35" stroke-linecap="round"/>
<line x1="369.5" y1="272.0" x2="374.8" y2="304.2" stroke="#dc3c50" stroke-width="1.35" stroke-linecap="round"/>
<line x1="374.8" y1="304.2" x2="379.3" y2="271.0" stroke="#383838" stroke-width="1.35" stroke-linecap="round"/>
<line x1="379.3" y1="271.0" x2="385.1" y2="297.4" stroke="#dc3c50" stroke-width="1.35" stroke-linecap="round"/>
<line x1="385.1" y1="297.4" x2="389.0" y2="279.8" stroke="#383838" stroke-width="1.35" stroke-linecap="round"/>
<line x1="389.0" y1="279.8" x2="393.0" y2="289.6" stroke="#dc3c50" stroke-width="1.35" stroke-linecap="round"/>
<line x1="393.0" y1="289.6" x2="395.9" y2="288.6" stroke="#383838" stroke-width="1.35" stroke-linecap="round"/>
<line x1="395.9" y1="288.6" x2="400.0" y2="303.0" stroke="#dc3c50" stroke-width="1.35" stroke-linecap="round"/>
<line x1="400.0" y1="303.0" x2="402.9" y2="311.2" stroke="#dc3c50" stroke-width="1.35" stroke-linecap="round"/>
<line x1="402.9" y1="311.2" x2="405.7" y2="303.0" stroke="#383838" stroke-width="1.35" stroke-linecap="round"/>
<line x1="405.7" y1="303.0" x2="407.3" y2="307.1" stroke="#dc3c50" stroke-width="1.35" stroke-linecap="round"/>
<line x1="407.3" y1="307.1" x2="409.5" y2="293.2" stroke="#383838" stroke-width="1.35" stroke-linecap="round"/>
<line x1="409.5" y1="293.2" x2="412.2" y2="291.6" stroke="#383838" stroke-width="1.35" stroke-linecap="round"/>
<line x1="412.2" y1="291.6" x2="414.7" y2="292.4" stroke="#dc3c50" stroke-width="1.35" stroke-linecap="round"/>
<line x1="414.7" y1="292.4" x2="421.2" y2="312.8" stroke="#dc3c50" stroke-width="1.35" stroke-linecap="round"/>
<line x1="421.2" y1="312.8" x2="425.3" y2="296.5" stroke="#383838" stroke-width="1.35" stroke-linecap="round"/>
<line x1="425.3" y1="296.5" x2="428.5" y2="308.7" stroke="#dc3c50" stroke-width="1.35" stroke-linecap="round"/>
<line x1="428.5" y1="308.7" x2="433.4" y2="323.4" stroke="#dc3c50" stroke-width="1.35" stroke-linecap="round"/>
<line x1="433.4" y1="323.4" x2="437.5" y2="316.1" stroke="#383838" stroke-width="1.35" stroke-linecap="round"/>
<line x1="437.5" y1="316.1" x2="441.6" y2="335.6" stroke="#dc3c50" stroke-width="1.35" stroke-linecap="round"/>
<line x1="441.6" y1="335.6" x2="447.3" y2="315.3" stroke="#383838" stroke-width="1.35" stroke-linecap="round"/>
<line x1="447.3" y1="315.3" x2="450.6" y2="318.5" stroke="#dc3c50" stroke-width="1.35" stroke-linecap="round"/>
<line x1="450.6" y1="318.5" x2="453.0" y2="315.3" stroke="#383838" stroke-width="1.35" stroke-linecap="round"/>
<line x1="453.0" y1="315.3" x2="462.0" y2="326.7" stroke="#dc3c50" stroke-width="1.35" stroke-linecap="round"/>
<line x1="462.0" y1="326.7" x2="466.9" y2="312.0" stroke="#383838" stroke-width="1.35" stroke-linecap="round"/>
<line x1="466.9" y1="312.0" x2="471.8" y2="307.9" stroke="#383838" stroke-width="1.35" stroke-linecap="round"/>
<line x1="471.8" y1="307.9" x2="474.2" y2="310.4" stroke="#dc3c50" stroke-width="1.35" stroke-linecap="round"/>
<line x1="474.2" y1="310.4" x2="477.5" y2="300.6" stroke="#383838" stroke-width="1.35" stroke-linecap="round"/>
<line x1="477.5" y1="300.6" x2="479.9" y2="306.3" stroke="#dc3c50" stroke-width="1.35" stroke-linecap="round"/>
<line x1="479.9" y1="306.3" x2="484.0" y2="325.9" stroke="#dc3c50" stroke-width="1.35" stroke-linecap="round"/>
<line x1="484.0" y1="325.9" x2="490.5" y2="334.8" stroke="#dc3c50" stroke-width="1.35" stroke-linecap="round"/>
<line x1="490.5" y1="334.8" x2="493.8" y2="329.9" stroke="#383838" stroke-width="1.35" stroke-linecap="round"/>
<line x1="493.8" y1="329.9" x2="498.9" y2="340.5" stroke="#dc3c50" stroke-width="1.35" stroke-linecap="round"/>
<line x1="498.9" y1="340.5" x2="504.2" y2="358.0" stroke="#dc3c50" stroke-width="1.35" stroke-linecap="round"/>
<line x1="504.2" y1="358.0" x2="508.1" y2="376.6" stroke="#dc3c50" stroke-width="1.35" stroke-linecap="round"/>
<line x1="508.1" y1="376.6" x2="511.7" y2="373.4" stroke="#383838" stroke-width="1.35" stroke-linecap="round"/>
<line x1="511.7" y1="373.4" x2="515.3" y2="379.8" stroke="#dc3c50" stroke-width="1.35" stroke-linecap="round"/>
<line x1="515.3" y1="379.8" x2="519.1" y2="370.2" stroke="#383838" stroke-width="1.35" stroke-linecap="round"/>
<line x1="519.1" y1="370.2" x2="523.3" y2="349.0" stroke="#383838" stroke-width="1.35" stroke-linecap="round"/>
<line x1="523.3" y1="349.0" x2="527.1" y2="344.8" stroke="#383838" stroke-width="1.35" stroke-linecap="round"/>
<line x1="527.1" y1="344.8" x2="528.6" y2="334.2" stroke="#383838" stroke-width="1.35" stroke-linecap="round"/>
<line x1="528.6" y1="334.2" x2="533.9" y2="327.8" stroke="#383838" stroke-width="1.35" stroke-linecap="round"/>
<line x1="533.9" y1="327.8" x2="537.1" y2="343.7" stroke="#dc3c50" stroke-width="1.35" stroke-linecap="round"/>
<line x1="537.1" y1="343.7" x2="541.3" y2="333.1" stroke="#383838" stroke-width="1.35" stroke-linecap="round"/>
<line x1="541.3" y1="333.1" x2="546.6" y2="341.6" stroke="#dc3c50" stroke-width="1.35" stroke-linecap="round"/>
<line x1="546.6" y1="341.6" x2="549.8" y2="327.8" stroke="#383838" stroke-width="1.35" stroke-linecap="round"/>
<line x1="549.8" y1="327.8" x2="551.9" y2="315.1" stroke="#383838" stroke-width="1.35" stroke-linecap="round"/>
<line x1="551.9" y1="315.1" x2="554.7" y2="282.3" stroke="#383838" stroke-width="1.35" stroke-linecap="round"/>
<line x1="554.7" y1="282.3" x2="557.2" y2="289.7" stroke="#dc3c50" stroke-width="1.35" stroke-linecap="round"/>
<line x1="557.2" y1="289.7" x2="562.5" y2="303.5" stroke="#dc3c50" stroke-width="1.35" stroke-linecap="round"/>
<line x1="562.5" y1="303.5" x2="564.7" y2="306.6" stroke="#dc3c50" stroke-width="1.35" stroke-linecap="round"/>
<line x1="564.7" y1="306.6" x2="568.9" y2="322.5" stroke="#dc3c50" stroke-width="1.35" stroke-linecap="round"/>
<line x1="568.9" y1="322.5" x2="574.2" y2="314.1" stroke="#383838" stroke-width="1.35" stroke-linecap="round"/>
<line x1="574.2" y1="314.1" x2="578.4" y2="320.4" stroke="#dc3c50" stroke-width="1.35" stroke-linecap="round"/>
<line x1="578.4" y1="320.4" x2="582.3" y2="314.1" stroke="#383838" stroke-width="1.35" stroke-linecap="round"/>
<line x1="582.3" y1="314.1" x2="584.4" y2="317.2" stroke="#dc3c50" stroke-width="1.35" stroke-linecap="round"/>
<line x1="584.4" y1="317.2" x2="586.9" y2="308.8" stroke="#383838" stroke-width="1.35" stroke-linecap="round"/>
<line x1="586.9" y1="308.8" x2="591.2" y2="321.5" stroke="#dc3c50" stroke-width="1.35" stroke-linecap="round"/>
<line x1="591.2" y1="321.5" x2="595.4" y2="327.8" stroke="#dc3c50" stroke-width="1.35" stroke-linecap="round"/>
<line x1="595.4" y1="327.8" x2="598.6" y2="317.2" stroke="#383838" stroke-width="1.35" stroke-linecap="round"/>
<line x1="598.6" y1="317.2" x2="601.8" y2="316.2" stroke="#383838" stroke-width="1.35" stroke-linecap="round"/>
<line x1="601.8" y1="316.2" x2="606.0" y2="316.2" stroke="#dc3c50" stroke-width="1.35" stroke-linecap="round"/>
<line x1="606.0" y1="316.2" x2="609.2" y2="303.5" stroke="#383838" stroke-width="1.35" stroke-linecap="round"/>
<line x1="609.2" y1="303.5" x2="611.3" y2="301.3" stroke="#383838" stroke-width="1.35" stroke-linecap="round"/>
<line x1="611.3" y1="301.3" x2="613.4" y2="295.0" stroke="#383838" stroke-width="1.35" stroke-linecap="round"/>
<line x1="0" y1="106.8" x2="618.5" y2="106.8" stroke="#4a4aff" stroke-width="1.8"/>
<line x1="358.7" y1="281.8" x2="627" y2="281.8" stroke="#4a4aff" stroke-width="1.7"/>
<line x1="61" y1="107" x2="614.5" y2="260.3" stroke="#1515f5" stroke-width="2.8"/>
<line x1="62" y1="70" x2="62" y2="111" stroke="#ee3344" stroke-width="1.6"/>
<line x1="233.4" y1="70" x2="233.4" y2="155.5" stroke="#ff1111" stroke-width="1.2"/>
<text x="461.7" y="268.8" font-size="12" fill="#222">3,81$</text>
<text x="648" y="108.0" font-size="11" fill="#222" text-anchor="end">70.00</text>
<text x="648" y="112.5" font-size="11" fill="#222" text-anchor="end">65.00</text>
<text x="648" y="117.8" font-size="11" fill="#222" text-anchor="end">60.00</text>
<text x="648" y="123.3" font-size="11" fill="#222" text-anchor="end">55.00</text>
<text x="648" y="129.2" font-size="11" fill="#222" text-anchor="end">50.00</text>
<text x="648" y="135.3" font-size="11" fill="#222" text-anchor="end">45.00</text>
<text x="648" y="142.3" font-size="11" fill="#222" text-anchor="end">40.00</text>
<text x="648" y="150.9" font-size="11" fill="#222" text-anchor="end">35.00</text>
<text x="648" y="160.2" font-size="11" fill="#222" text-anchor="end">30.00</text>
<text x="648" y="171.6" font-size="11" fill="#222" text-anchor="end">25.00</text>
<text x="648" y="184.6" font-size="11" fill="#222" text-anchor="end">20.00</text>
<text x="648" y="203.5" font-size="11" fill="#222" text-anchor="end">15.00</text>
<text x="648" y="228.0" font-size="11" fill="#222" text-anchor="end">10.00</text>
<text x="648" y="269.6" font-size="11" fill="#222" text-anchor="end">5.00</text>
<text x="648" y="355.0" font-size="11" fill="#222" text-anchor="end">1.25</text>
<polygon points="624.2,250.4 633.2,242.2 633.2,246.3 641.1,246.3 641.1,255.3 633.2,255.3 633.2,259.1" fill="#ff0000"/>
<rect x="0" y="387" width="400" height="15.5" fill="#cbcbcb"/>
<text x="-2.5" y="398.8" font-size="10" fill="#111">2</text>
<text x="12.1" y="398.8" font-size="10" fill="#111">C: 2.98</text>
<text x="53.6" y="398.8" font-size="10" fill="#111">V: 23,585,652</text>
<text x="125.3" y="398.8" font-size="10" fill="#111">Y: 0.98</text>
<text x="476.0" y="397.5" font-size="11" fill="#111" text-anchor="middle" font-weight="bold">25</text>
<text x="504.4" y="397.5" font-size="11" fill="#111" text-anchor="middle">Apr</text>
<text x="530.9" y="397.5" font-size="11" fill="#111" text-anchor="middle">Jul</text>
<text x="556.6" y="397.5" font-size="11" fill="#111" text-anchor="middle">Oct</text>
<text x="581.8" y="397.5" font-size="11" fill="#111" text-anchor="middle" font-weight="bold">26</text>
<text x="609.3" y="397.5" font-size="11" fill="#111" text-anchor="middle">Apr</text>
<clipPath id="c621"><rect x="0" y="0" width="659" height="445.40"/></clipPath><polygon clip-path="url(#c621)" points="0.0,445.4 0.0,411.3 1.9,408.5 3.8,417.8 6.6,433.8 9.4,446.9 11.6,437.5 15.0,434.7 17.8,439.4 20.6,446.0 23.5,444.7 25.9,448.8 29.6,433.4 31.9,436.6 35.6,449.7 39.8,425.3 43.2,427.2 46.0,436.6 49.2,434.2 51.6,434.2 54.4,437.5 57.8,419.7 61.0,425.3 65.7,441.3 69.4,455.4 72.8,460.0 76.0,461.9 77.8,467.5 81.6,471.3 85.3,477.9 88.1,476.0 91.9,480.3 95.6,472.2 99.4,469.4 102.8,469.8 106.5,462.3 110.6,474.1 114.4,473.2 118.5,471.7 120.4,478.8 124.2,469.4 126.6,473.6 130.3,466.6 133.2,471.3 135.0,470.4 136.9,446.9 139.7,431.9 142.5,427.2 145.4,429.1 148.2,435.7 152.0,442.0 152.0,445.4" fill="#6f916f"/>
<clipPath id="c622"><rect x="0" y="0" width="659" height="445.40"/></clipPath><polygon clip-path="url(#c622)" points="470.0,445.4 470.0,460.0 474.6,440.0 477.3,422.0 479.0,432.6 480.6,460.4 483.0,480.0 486.3,481.6 488.0,485.6 492.0,484.0 496.1,478.6 501.8,484.8 504.3,483.2 508.3,486.1 512.4,481.6 517.3,475.9 520.6,471.8 522.5,462.8 526.3,465.3 530.4,445.7 534.4,437.5 536.9,448.1 539.3,450.6 541.0,446.5 544.2,448.9 547.0,456.3 549.1,456.3 550.8,444.0 554.5,410.6 557.3,418.0 561.4,447.3 565.4,455.5 569.2,466.5 574.9,461.9 579.5,467.0 586.3,464.7 590.9,474.3 596.6,478.9 602.3,455.5 606.9,453.2 609.2,425.8 613.3,419.4 613.3,445.4" fill="#6f916f"/>
<clipPath id="b623"><rect x="0" y="478.60" width="659" height="613"/></clipPath><polygon clip-path="url(#b623)" points="470.0,478.6 470.0,460.0 474.6,440.0 477.3,422.0 479.0,432.6 480.6,460.4 483.0,480.0 486.3,481.6 488.0,485.6 492.0,484.0 496.1,478.6 501.8,484.8 504.3,483.2 508.3,486.1 512.4,481.6 517.3,475.9 520.6,471.8 522.5,462.8 526.3,465.3 530.4,445.7 534.4,437.5 536.9,448.1 539.3,450.6 541.0,446.5 544.2,448.9 547.0,456.3 549.1,456.3 550.8,444.0 554.5,410.6 557.3,418.0 561.4,447.3 565.4,455.5 569.2,466.5 574.9,461.9 579.5,467.0 586.3,464.7 590.9,474.3 596.6,478.9 602.3,455.5 606.9,453.2 609.2,425.8 613.3,419.4 613.3,478.6" fill="#a77a7a"/>
<line x1="0" y1="445.4" x2="618.5" y2="445.4" stroke="#4a4a4a" stroke-width="1"/>
<line x1="0" y1="462" x2="618.5" y2="462" stroke="#9a9a9a" stroke-width="1.3" stroke-dasharray="8 4 2 4"/>
<line x1="0" y1="478.6" x2="618.5" y2="478.6" stroke="#4a4a4a" stroke-width="1"/>
<polyline points="0.0,411.3 1.9,408.5 3.8,417.8 6.6,433.8 9.4,446.9 11.6,437.5 15.0,434.7 17.8,439.4 20.6,446.0 23.5,444.7 25.9,448.8 29.6,433.4 31.9,436.6 35.6,449.7 39.8,425.3 43.2,427.2 46.0,436.6 49.2,434.2 51.6,434.2 54.4,437.5 57.8,419.7 61.0,425.3 65.7,441.3 69.4,455.4 72.8,460.0 76.0,461.9 77.8,467.5 81.6,471.3 85.3,477.9 88.1,476.0 91.9,480.3 95.6,472.2 99.4,469.4 102.8,469.8 106.5,462.3 110.6,474.1 114.4,473.2 118.5,471.7 120.4,478.8 124.2,469.4 126.6,473.6 130.3,466.6 133.2,471.3 135.0,470.4 136.9,446.9 139.7,431.9 142.5,427.2 145.4,429.1 148.2,435.7 152.0,442.0" fill="none" stroke="#262626" stroke-width="1.3" stroke-linejoin="round"/>
<polyline points="470.0,460.0 474.6,440.0 477.3,422.0 479.0,432.6 480.6,460.4 483.0,480.0 486.3,481.6 488.0,485.6 492.0,484.0 496.1,478.6 501.8,484.8 504.3,483.2 508.3,486.1 512.4,481.6 517.3,475.9 520.6,471.8 522.5,462.8 526.3,465.3 530.4,445.7 534.4,437.5 536.9,448.1 539.3,450.6 541.0,446.5 544.2,448.9 547.0,456.3 549.1,456.3 550.8,444.0 554.5,410.6 557.3,418.0 561.4,447.3 565.4,455.5 569.2,466.5 574.9,461.9 579.5,467.0 586.3,464.7 590.9,474.3 596.6,478.9 602.3,455.5 606.9,453.2 609.2,425.8 613.3,419.4" fill="none" stroke="#262626" stroke-width="1.3" stroke-linejoin="round"/>
<text x="642" y="416.0" font-size="11" fill="#222" text-anchor="end">300</text>
<text x="642" y="432.5" font-size="11" fill="#222" text-anchor="end">200</text>
<text x="642" y="449.2" font-size="11" fill="#222" text-anchor="end">100</text>
<text x="642" y="465.2" font-size="11" fill="#222" text-anchor="end">0</text>
<text x="642" y="482.4" font-size="11" fill="#222" text-anchor="end">-100</text>
<text x="642" y="497.7" font-size="11" fill="#222" text-anchor="end">-200</text>
<line x1="0" y1="526.1" x2="618.5" y2="526.1" stroke="#4a4a4a" stroke-width="1"/>
<line x1="0" y1="552.2" x2="618.5" y2="552.2" stroke="#9a9a9a" stroke-width="1.3" stroke-dasharray="8 4 2 4"/>
<line x1="0" y1="578.3" x2="618.5" y2="578.3" stroke="#4a4a4a" stroke-width="1"/>
<polyline points="0.0,525.0 10.0,531.0 17.0,520.0 26.0,526.0 32.0,521.0 38.0,531.0 44.0,517.0 52.0,521.0 56.0,519.0 66.0,525.0 70.0,532.0 75.0,554.0 78.0,568.0 84.0,588.0 92.0,588.0 100.0,570.0 109.0,543.0 118.0,556.0 126.0,578.0 134.0,575.0 139.0,558.0 145.0,522.0 148.0,520.0 152.0,522.0" fill="none" stroke="#ee2222" stroke-width="1.8" stroke-linejoin="round"/>
<polyline points="470.0,540.0 474.8,540.0 478.0,537.0 482.0,545.0 485.0,572.0 488.0,587.0 492.0,590.0 498.0,585.0 502.0,588.0 506.0,592.0 510.0,593.7 514.0,591.0 519.0,587.0 524.0,575.0 530.0,548.0 534.0,522.0 538.0,525.0 542.0,538.0 546.0,536.0 550.0,545.0 554.0,538.0 557.0,530.0 561.0,534.0 566.7,558.6 572.5,575.0 579.3,575.9 584.1,579.8 589.9,569.2 598.5,579.8 605.3,560.5 613.0,528.7" fill="none" stroke="#ee2222" stroke-width="1.8" stroke-linejoin="round"/>
<polyline points="0.0,523.0 4.0,524.0 9.0,536.0 16.0,518.0 20.0,522.0 24.0,527.0 31.0,518.0 36.0,537.0 42.0,515.0 48.0,523.0 53.0,517.0 56.0,517.0 64.0,525.0 69.0,529.0 71.0,545.0 75.0,562.0 79.0,574.0 82.0,586.0 85.0,589.0 89.0,588.6 93.0,588.2 96.0,582.0 100.0,565.0 103.0,561.0 108.5,538.0 113.0,553.0 118.0,556.0 121.0,570.0 124.0,578.0 128.0,580.6 133.0,575.0 136.0,562.0 140.0,522.0 143.0,521.7 145.0,518.0 148.0,520.0 152.0,525.0" fill="none" stroke="#111" stroke-width="2" stroke-linejoin="round"/>
<polyline points="470.0,545.0 474.8,538.4 477.7,536.4 480.6,540.3 483.5,572.1 486.4,587.5 490.2,589.8 494.1,587.5 497.9,583.2 500.8,587.5 504.7,592.3 508.5,593.7 512.4,590.4 517.2,587.5 521.1,579.8 523.0,568.2 527.8,550.9 532.6,520.0 535.5,522.0 540.3,540.3 544.2,534.5 548.6,547.0 550.9,540.3 553.2,537.4 554.8,524.9 558.6,531.6 562.5,549.0 565.8,559.5 570.6,577.9 575.4,573.6 582.2,581.3 590.4,566.7 593.7,571.1 597.0,584.6 601.4,558.6 603.4,552.8 606.2,549.0 613.0,523.0" fill="none" stroke="#111" stroke-width="2" stroke-linejoin="round"/>
<text x="-5.2" y="512.2" font-size="10" fill="#333" stroke="#333" stroke-width="0.3" style="font-family:'Liberation Mono',monospace">(3) 84.77, <tspan fill="#e83030" stroke="#e83030">78.43</tspan></text>
<text x="621" y="529.8" font-size="11" fill="#222">80</text>
<text x="621" y="556.0" font-size="11" fill="#222">50</text>
<text x="621" y="582.0" font-size="11" fill="#222">20</text>
<text x="3.6" y="613" font-size="11" fill="#111" text-anchor="middle">Jul</text>
<text x="29.6" y="613" font-size="11" fill="#111" text-anchor="middle">Oct</text>
<text x="55.8" y="613" font-size="11" fill="#111" text-anchor="middle" font-weight="bold">21</text>
<text x="82.5" y="613" font-size="11" fill="#111" text-anchor="middle">Apr</text>
<text x="108.7" y="613" font-size="11" fill="#111" text-anchor="middle">Jul</text>
<text x="134.7" y="613" font-size="11" fill="#111" text-anchor="middle">Oct</text>
<text x="160.9" y="613" font-size="11" fill="#111" text-anchor="middle" font-weight="bold">22</text>
<text x="187.6" y="613" font-size="11" fill="#111" text-anchor="middle">Apr</text>
<text x="213.6" y="613" font-size="11" fill="#111" text-anchor="middle">Jul</text>
<text x="239.8" y="613" font-size="11" fill="#111" text-anchor="middle">Oct</text>
<text x="266.0" y="613" font-size="11" fill="#111" text-anchor="middle" font-weight="bold">23</text>
<text x="292.5" y="613" font-size="11" fill="#111" text-anchor="middle">Apr</text>
<text x="318.5" y="613" font-size="11" fill="#111" text-anchor="middle">Jul</text>
<text x="345.2" y="613" font-size="11" fill="#111" text-anchor="middle">Oct</text>
<text x="370.7" y="613" font-size="11" fill="#111" text-anchor="middle" font-weight="bold">24</text>
<text x="397.4" y="613" font-size="11" fill="#111" text-anchor="middle">Apr</text>
<text x="423.6" y="613" font-size="11" fill="#111" text-anchor="middle">Jul</text>
<text x="450.3" y="613" font-size="11" fill="#111" text-anchor="middle">Oct</text>
<text x="477.5" y="613" font-size="11" fill="#111" text-anchor="middle" font-weight="bold">25</text>
<text x="504.4" y="613" font-size="11" fill="#111" text-anchor="middle">Apr</text>
<text x="530.9" y="613" font-size="11" fill="#111" text-anchor="middle">Jul</text>
<text x="556.6" y="613" font-size="11" fill="#111" text-anchor="middle">Oct</text>
<text x="583.3" y="613" font-size="11" fill="#111" text-anchor="middle" font-weight="bold">26</text>
<text x="609.3" y="613" font-size="11" fill="#111" text-anchor="middle">Apr</text>
<rect x="155.5" y="381.5" width="314" height="219.3" fill="#fff"/>
<line x1="155.5" y1="601.6" x2="469.5" y2="601.6" stroke="#b8b8b8" stroke-width="1.2"/>
<text x="160.9" y="613" font-size="11" fill="#111" text-anchor="middle" font-weight="bold">22</text>
<text x="187.6" y="613" font-size="11" fill="#111" text-anchor="middle">Apr</text>
<text x="213.6" y="613" font-size="11" fill="#111" text-anchor="middle">Jul</text>
<text x="239.8" y="613" font-size="11" fill="#111" text-anchor="middle">Oct</text>
<text x="266.0" y="613" font-size="11" fill="#111" text-anchor="middle" font-weight="bold">23</text>
<text x="292.5" y="613" font-size="11" fill="#111" text-anchor="middle">Apr</text>
<text x="318.5" y="613" font-size="11" fill="#111" text-anchor="middle">Jul</text>
<text x="345.2" y="613" font-size="11" fill="#111" text-anchor="middle">Oct</text>
<text x="370.7" y="613" font-size="11" fill="#111" text-anchor="middle" font-weight="bold">24</text>
<text x="397.4" y="613" font-size="11" fill="#111" text-anchor="middle">Apr</text>
<text x="423.6" y="613" font-size="11" fill="#111" text-anchor="middle">Jul</text>
<text x="450.3" y="613" font-size="11" fill="#111" text-anchor="middle">Oct</text>
<rect x="153" y="379" width="319" height="229" fill="none" stroke="#ee1c25" stroke-width="5"/>
<rect x="465" y="381.5" width="4" height="6" fill="#b4b4b4"/>
<text x="157" y="394.2" font-size="14" fill="#1c2038" stroke="#1c2038" stroke-width="0.12" textLength="154.9" lengthAdjust="spacing">una bellissima struttura</text>
<text x="157" y="413.6" font-size="14" fill="#1c2038" stroke="#1c2038" stroke-width="0.12" textLength="211.8" lengthAdjust="spacing">-Bump and Run Reversal Bottom</text>
<text x="157" y="433.0" font-size="14" fill="#1c2038" stroke="#1c2038" stroke-width="0.12" textLength="249.10000000000002" lengthAdjust="spacing">che se completata con il superamento</text>
<text x="157" y="452.3" font-size="14" fill="#1c2038" stroke="#1c2038" stroke-width="0.12" textLength="131.10000000000002" lengthAdjust="spacing">della trendline ...blu</text>
<text x="157" y="471.7" font-size="14" fill="#1c2038" stroke="#1c2038" stroke-width="0.12" textLength="257.1" lengthAdjust="spacing">Attiverebbe un Target sull'ATH...65,47$</text>
<text x="157" y="510.5" font-size="14" fill="#1c2038" stroke="#1c2038" stroke-width="0.12" textLength="149.60000000000002" lengthAdjust="spacing">a conferma la Struttura</text>
<text x="157" y="529.9" font-size="14" fill="#1c2038" stroke="#1c2038" stroke-width="0.12" textLength="148.60000000000002" lengthAdjust="spacing">la c&amp;h che si completa</text>
<text x="157" y="549.2" font-size="14" fill="#1c2038" stroke="#1c2038" stroke-width="0.12" textLength="260.6" lengthAdjust="spacing">con una chiusura weekly ...sopra...3,81$</text>
<text x="157" y="568.6" font-size="14" fill="#1c2038" stroke="#1c2038" stroke-width="0.12" textLength="187.3" lengthAdjust="spacing">ma la vera ...svolta...rialzista</text>
<text x="157" y="588.0" font-size="14" fill="#1c2038" stroke="#1c2038" stroke-width="0.12" textLength="303.2" lengthAdjust="spacing">con il superamento della 200wk...freccia rossa</text>
<rect x="273.8" y="85.2" width="95.3" height="22.4" rx="6" ry="6" fill="#fff" stroke="#22ee22" stroke-width="4"/>
<text x="282.8" y="101.4" font-size="12" fill="#333">65,77$ Target</text>
</svg></body></html>
